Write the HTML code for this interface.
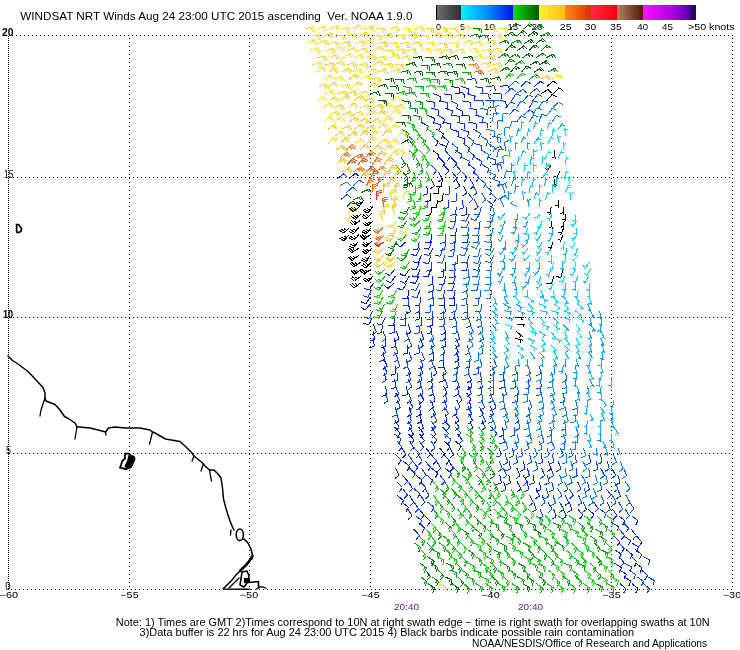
<!DOCTYPE html><html><head><meta charset="utf-8"><title>WINDSAT NRT Winds</title><style>html,body{margin:0;padding:0;background:#fff;width:740px;height:650px;overflow:hidden}svg{display:block}text{font-family:"Liberation Sans",Arial,sans-serif}</style></head><body><svg width="740" height="650" viewBox="0 0 740 650"><rect width="740" height="650" fill="#fff"/><defs><linearGradient id="g0" x1="0" x2="1" y1="0" y2="0"><stop offset="0" stop-color="#707070"/><stop offset="1" stop-color="#2e2e2e"/></linearGradient><linearGradient id="g1" x1="0" x2="1" y1="0" y2="0"><stop offset="0" stop-color="#00f4ff"/><stop offset="0.5" stop-color="#0090ff"/><stop offset="1" stop-color="#0010e8"/></linearGradient><linearGradient id="g2" x1="0" x2="1" y1="0" y2="0"><stop offset="0" stop-color="#00e000"/><stop offset="1" stop-color="#005a00"/></linearGradient><linearGradient id="g3" x1="0" x2="1" y1="0" y2="0"><stop offset="0" stop-color="#fff030"/><stop offset="1" stop-color="#ffc010"/></linearGradient><linearGradient id="g4" x1="0" x2="1" y1="0" y2="0"><stop offset="0" stop-color="#ff8818"/><stop offset="1" stop-color="#e03000"/></linearGradient><linearGradient id="g5" x1="0" x2="1" y1="0" y2="0"><stop offset="0" stop-color="#ff2848"/><stop offset="1" stop-color="#ff0008"/></linearGradient><linearGradient id="g6" x1="0" x2="1" y1="0" y2="0"><stop offset="0" stop-color="#b88060"/><stop offset="1" stop-color="#501808"/></linearGradient><linearGradient id="g7" x1="0" x2="1" y1="0" y2="0"><stop offset="0" stop-color="#ff10ff"/><stop offset="0.7" stop-color="#a000e0"/><stop offset="1" stop-color="#5000a8"/></linearGradient></defs><rect x="436" y="5" width="25" height="15" fill="url(#g0)"/><rect x="461" y="5" width="52" height="15" fill="url(#g1)"/><rect x="513" y="5" width="26" height="15" fill="url(#g2)"/><rect x="539" y="5" width="26" height="15" fill="url(#g3)"/><rect x="565" y="5" width="26" height="15" fill="url(#g4)"/><rect x="591" y="5" width="26" height="15" fill="url(#g5)"/><rect x="617" y="5" width="26" height="15" fill="url(#g6)"/><rect x="643" y="5" width="47" height="15" fill="url(#g7)"/><rect x="690" y="5" width="6" height="15" fill="#300060"/><rect x="436" y="5" width="1" height="15" fill="#000"/><g shape-rendering="crispEdges"><line x1="12" y1="35.5" x2="733" y2="35.5" stroke="#000" stroke-width="1" stroke-dasharray="1 3"/><line x1="11" y1="589.5" x2="733" y2="589.5" stroke="#000" stroke-width="1" stroke-dasharray="1 3"/><line x1="9" y1="177.5" x2="733" y2="177.5" stroke="#000" stroke-width="1" stroke-dasharray="1 3"/><line x1="9" y1="317.5" x2="733" y2="317.5" stroke="#000" stroke-width="1" stroke-dasharray="1 3"/><line x1="9" y1="453.5" x2="733" y2="453.5" stroke="#000" stroke-width="1" stroke-dasharray="1 3"/><line x1="8.5" y1="36" x2="8.5" y2="590" stroke="#000" stroke-width="1" stroke-dasharray="1 1"/><line x1="129.5" y1="38" x2="129.5" y2="590" stroke="#000" stroke-width="1" stroke-dasharray="1 3"/><line x1="249.5" y1="38" x2="249.5" y2="590" stroke="#000" stroke-width="1" stroke-dasharray="1 3"/><line x1="370.5" y1="38" x2="370.5" y2="590" stroke="#000" stroke-width="1" stroke-dasharray="1 3"/><line x1="490.5" y1="38" x2="490.5" y2="590" stroke="#000" stroke-width="1" stroke-dasharray="1 3"/><line x1="611.5" y1="38" x2="611.5" y2="590" stroke="#000" stroke-width="1" stroke-dasharray="1 3"/><line x1="732.5" y1="38" x2="732.5" y2="590" stroke="#000" stroke-width="1" stroke-dasharray="1 3"/></g><text x="20.3" y="20.4" font-size="11" fill="#000" text-anchor="start" textLength="392.2" lengthAdjust="spacingAndGlyphs">WINDSAT NRT Winds Aug 24 23:00 UTC 2015 ascending&#160;&#160;Ver. NOAA 1.9.0</text><text x="436" y="30" font-size="9" fill="#000" text-anchor="start" textLength="5" lengthAdjust="spacingAndGlyphs">0</text><text x="460" y="30" font-size="9" fill="#000" text-anchor="start" textLength="5" lengthAdjust="spacingAndGlyphs">5</text><text x="484" y="30" font-size="9" fill="#000" text-anchor="start" textLength="11" lengthAdjust="spacingAndGlyphs">10</text><text x="507.5" y="30" font-size="9" fill="#000" text-anchor="start" textLength="10.5" lengthAdjust="spacingAndGlyphs">15</text><text x="531.5" y="30" font-size="9" fill="#000" text-anchor="start" textLength="11.0" lengthAdjust="spacingAndGlyphs">20</text><text x="559.7" y="30" font-size="9" fill="#000" text-anchor="start" textLength="11.9" lengthAdjust="spacingAndGlyphs">25</text><text x="584.8" y="30" font-size="9" fill="#000" text-anchor="start" textLength="11.4" lengthAdjust="spacingAndGlyphs">30</text><text x="610.3" y="30" font-size="9" fill="#000" text-anchor="start" textLength="11.2" lengthAdjust="spacingAndGlyphs">35</text><text x="637.3" y="30" font-size="9" fill="#000" text-anchor="start" textLength="10.7" lengthAdjust="spacingAndGlyphs">40</text><text x="662" y="30" font-size="9" fill="#000" text-anchor="start" textLength="11" lengthAdjust="spacingAndGlyphs">45</text><text x="688" y="30" font-size="9" fill="#000" text-anchor="start" textLength="46.6" lengthAdjust="spacingAndGlyphs">&gt;50 knots</text><text x="2.0" y="35.8" font-size="10" fill="#000" text-anchor="start" textLength="11.5" lengthAdjust="spacingAndGlyphs" font-weight="bold">20</text><text x="4.0" y="178" font-size="10" fill="#000" text-anchor="start" textLength="9.6" lengthAdjust="spacingAndGlyphs">15</text><text x="3.0" y="318.2" font-size="10" fill="#000" text-anchor="start" textLength="10.2" lengthAdjust="spacingAndGlyphs" font-weight="bold">10</text><text x="6" y="454" font-size="10" fill="#000" text-anchor="start" textLength="5" lengthAdjust="spacingAndGlyphs">5</text><text x="5.199999999999999" y="589.6" font-size="10" fill="#000" text-anchor="start" textLength="5.4" lengthAdjust="spacingAndGlyphs">0</text><text x="-0.3999999999999986" y="598.4" font-size="9" fill="#000" text-anchor="start" textLength="18.4" lengthAdjust="spacingAndGlyphs">&#8722;60</text><text x="120.3" y="598.4" font-size="9" fill="#000" text-anchor="start" textLength="18.4" lengthAdjust="spacingAndGlyphs">&#8722;55</text><text x="239.8" y="598.4" font-size="9" fill="#000" text-anchor="start" textLength="18.4" lengthAdjust="spacingAndGlyphs">&#8722;50</text><text x="361.3" y="598.4" font-size="9" fill="#000" text-anchor="start" textLength="18.4" lengthAdjust="spacingAndGlyphs">&#8722;45</text><text x="481.3" y="598.4" font-size="9" fill="#000" text-anchor="start" textLength="18.4" lengthAdjust="spacingAndGlyphs">&#8722;40</text><text x="602.3" y="598.4" font-size="9" fill="#000" text-anchor="start" textLength="18.4" lengthAdjust="spacingAndGlyphs">&#8722;35</text><text x="722.8" y="598.4" font-size="9" fill="#000" text-anchor="start" textLength="18.4" lengthAdjust="spacingAndGlyphs">&#8722;30</text><text x="115.8" y="626.1" font-size="10" fill="#000" text-anchor="start" textLength="593.8" lengthAdjust="spacingAndGlyphs">Note: 1) Times are GMT 2)Times correspond to 10N at right swath edge &#8722; time is right swath for overlapping swaths at 10N</text><text x="139.6" y="635.6" font-size="10" fill="#000" text-anchor="start" textLength="494.6" lengthAdjust="spacingAndGlyphs">3)Data buffer is 22 hrs for Aug 24 23:00 UTC 2015 4) Black barbs indicate possible rain contamination</text><text x="472" y="647.3" font-size="10" fill="#000" text-anchor="start" textLength="235.2" lengthAdjust="spacingAndGlyphs">NOAA/NESDIS/Office of Research and Applications</text><text x="394" y="609.8" font-size="9" fill="#5a1e8c" text-anchor="start" textLength="25" lengthAdjust="spacingAndGlyphs">20:40</text><text x="518" y="609.8" font-size="9" fill="#5a1e8c" text-anchor="start" textLength="25" lengthAdjust="spacingAndGlyphs">20:40</text><g><polyline fill="none" stroke="#000" stroke-width="1.5" stroke-linejoin="round" stroke-linecap="round" points="8,356 12,360 20,365.5 28,371.5 36.5,380.5 43,387.5 45,393 45,398 46,401 55,404.5 60,410 64.5,416.5 69,419 75,423 77,427 79.5,427 90,428 100,430.5 105.5,432 108.5,428 115,427 125,428 130,428 140,428 150,430 152.5,432 155,433 165.5,439 180,441.5 186,447 192,453 194,456 202,462.5 205,466 209.5,470 214,470 218,474 221,478 222.5,488 223.5,499 225.8,507.7 228,515 230,521 232.5,527 234,530"/><polyline fill="none" stroke="#000" stroke-width="1.3" stroke-linejoin="round" stroke-linecap="round" points="45,398 43,404 41,410 40,416"/><polyline fill="none" stroke="#000" stroke-width="1.3" stroke-linejoin="round" stroke-linecap="round" points="77,427 76,433 75,439"/><polyline fill="none" stroke="#000" stroke-width="1.3" stroke-linejoin="round" stroke-linecap="round" points="105.5,432 106,435"/><polyline fill="none" stroke="#000" stroke-width="1.3" stroke-linejoin="round" stroke-linecap="round" points="152.5,432 151,438 149.5,444"/><polyline fill="none" stroke="#000" stroke-width="1.3" stroke-linejoin="round" stroke-linecap="round" points="194,456 192,461"/><polyline fill="none" stroke="#000" stroke-width="1.3" stroke-linejoin="round" stroke-linecap="round" points="203,465 201,471"/><polyline fill="none" stroke="#000" stroke-width="1.3" stroke-linejoin="round" stroke-linecap="round" points="209.5,470 210.5,476 211.5,481"/><polyline fill="none" stroke="#000" stroke-width="1.3" stroke-linejoin="round" stroke-linecap="round" points="231,530 230.5,535"/><ellipse cx="239.8" cy="534.8" rx="3.6" ry="5.8" fill="none" stroke="#000" stroke-width="1.6"/><polyline fill="none" stroke="#000" stroke-width="1.6" stroke-linejoin="round" stroke-linecap="round" points="243,539 244.6,539.6 248,543 251,549 252.5,555 252,559"/><polyline fill="none" stroke="#000" stroke-width="2.6" stroke-linejoin="round" stroke-linecap="round" points="252.5,556 250,560 247,564 243,568 240,571"/><polyline fill="none" stroke="#000" stroke-width="1.5" stroke-linejoin="round" stroke-linecap="round" points="240,571 236,575 232,580 227,585 223,589 250,589.3"/><polyline fill="none" stroke="#000" stroke-width="1.4" stroke-linejoin="round" stroke-linecap="round" points="239,578 234,583 229,588"/><polyline fill="none" stroke="#000" stroke-width="1.6" stroke-linejoin="round" stroke-linecap="round" points="242,572 247,571 249,576 247,583 244,587 240,585 241,579 242,572"/><rect x="244" y="578" width="6" height="5" fill="#000"/><polyline fill="none" stroke="#000" stroke-width="1.6" stroke-linejoin="round" stroke-linecap="round" points="249,582.5 258.5,581.5 258.5,588"/><polyline fill="none" stroke="#000" stroke-width="1.3" stroke-linejoin="round" stroke-linecap="round" points="256.5,589 259.5,587 264,587.2 266,588.5"/><polygon points="16.6,224.6 18.6,224.6 21.4,228.2 21.4,230.6 19.4,232.4 17,232.4 16.6,231" fill="none" stroke="#000" stroke-width="1.7"/><polygon points="125,453.6 128.6,453.6 130.5,455.5 133.8,456.6 134.6,459 133,463 131,467 126,469.2 123,468.3 120,467.6 121.2,464.5 122.2,461 125,458.5" fill="none" stroke="#000" stroke-width="1.8"/><polygon points="128.6,455 130.5,456 133.5,457.2 134,459 132.5,463 130.5,466.8 126,468.6 124.5,466 127,461" fill="#000"/></g><g shape-rendering="crispEdges"><path fill="none" stroke="#006700" stroke-width="1" d="M427.7 583.5L434.6 588.1M434.6 588.1l-2.1 4.8M432.9 587.0l-1.2 2.7"/><path fill="none" stroke="#fae127" stroke-width="1" d="M438.2 583.5L445.9 586.4M445.9 586.4l-1.0 5.1M444.1 585.7l-1.0 5.1M408.1 227.6L403.6 234.4M403.6 234.4l-4.8 -2.0M404.7 232.8l-4.8 -2.0M346.6 220.6L351.5 214.1M351.5 214.1l4.6 2.4M350.3 215.6l4.6 2.4M348.5 213.6L352.9 206.7M352.9 206.7l4.8 2.0M351.9 208.4l4.8 2.0M394.8 150.4L402.9 148.8M402.9 148.8l1.9 4.8M400.9 149.2l1.9 4.8M389.3 143.4L396.1 138.8M396.1 138.8l3.6 3.7M394.4 139.9l3.6 3.7M324.2 122.2L329.6 116.0M329.6 116.0l4.4 2.7M328.3 117.5l4.4 2.7M371.2 122.2L378.6 118.5M378.6 118.5l3.1 4.2M376.8 119.4l3.1 4.2M329.8 115.1L336.9 111.0M336.9 111.0l3.3 4.0M335.1 112.0l3.3 4.0M323.0 107.9L329.6 103.1M329.6 103.1l3.8 3.6M328.0 104.3l3.8 3.6M382.3 107.9L388.8 103.0M388.8 103.0l3.8 3.5M387.3 104.2l3.8 3.5M324.5 93.7L331.9 90.2M331.9 90.2l3.0 4.2M330.1 91.1l3.0 4.2M334.1 79.4L341.8 76.5M341.8 76.5l2.6 4.5M339.9 77.2l2.6 4.5M360.7 79.4L367.5 74.9M367.5 74.9l3.6 3.8M365.9 76.0l3.6 3.8M367.5 72.3L374.6 68.3M374.6 68.3l3.3 4.0M372.9 69.3l3.3 4.0M390.9 72.3L398.1 68.3M398.1 68.3l3.2 4.1M396.4 69.3l3.2 4.1M394.8 65.1L402.9 64.0M402.9 64.0l1.6 5.0M400.9 64.3l1.6 5.0M480.4 65.1L488.0 62.1M488.0 62.1l2.7 4.4M486.2 62.8l2.7 4.4M366.5 57.9L374.1 54.6M374.1 54.6l2.9 4.3M372.2 55.4l2.9 4.3M309.8 50.7L317.3 47.5M317.3 47.5l2.9 4.3M315.5 48.3l2.9 4.3M395.9 50.7L403.9 48.9M403.9 48.9l2.0 4.8M401.9 49.4l2.0 4.8M455.2 50.7L463.2 48.9M463.2 48.9l2.0 4.8M461.2 49.4l2.0 4.8M468.8 50.7L476.4 47.8M476.4 47.8l2.7 4.5M474.6 48.5l2.7 4.5M491.6 50.7L499.3 47.9M499.3 47.9l2.6 4.5M497.4 48.6l2.6 4.5M306.9 43.5L314.2 39.7M314.2 39.7l3.2 4.1M312.4 40.7l3.2 4.1M389.4 43.5L397.5 42.6M397.5 42.6l1.5 5.0M395.5 42.8l1.5 5.0M449.5 43.5L457.6 42.5M457.6 42.5l1.5 5.0M455.6 42.8l1.5 5.0M335.7 36.3L343.8 35.1M343.8 35.1l1.6 4.9M341.9 35.4l1.6 4.9M346.6 36.3L354.3 33.5M354.3 33.5l2.6 4.5M352.4 34.2l2.6 4.5M396.0 36.3L404.0 34.5M404.0 34.5l2.0 4.8M402.1 34.9l2.0 4.8M442.7 36.3L450.2 33.1M450.2 33.1l2.8 4.4M448.4 33.9l2.8 4.4M492.6 36.3L500.6 34.6M500.6 34.6l2.0 4.8M498.6 35.0l2.0 4.8M316.9 29.1L324.6 26.2M324.6 26.2l2.6 4.5M322.8 26.9l2.6 4.5M401.9 29.1L410.1 28.3M410.1 28.3l1.4 5.0M408.1 28.5l1.4 5.0M449.0 29.1L457.1 27.8M457.1 27.8l1.7 4.9M455.2 28.1l1.7 4.9M498.4 29.1L506.5 27.7M506.5 27.7l1.7 4.9M504.5 28.1l1.7 4.9"/><path fill="none" stroke="#007e00" stroke-width="1" d="M451.8 583.5L458.6 588.1M458.6 588.1l-2.1 4.8M457.0 587.0l-1.2 2.7M498.8 43.5L506.1 39.9M506.1 39.9l3.1 4.2M504.4 40.8l1.8 2.4M469.7 36.3L477.5 33.8M477.5 33.8l2.4 4.6M475.6 34.4l1.4 2.6"/><path fill="none" stroke="#00b000" stroke-width="1" d="M463.7 583.5L469.8 589.1M469.8 589.1l-2.8 4.4M468.3 587.7l-1.6 2.5M409.2 248.4L405.9 256.0M405.9 256.0l-5.1 -1.2M406.7 254.1l-2.9 -0.7"/><path fill="none" stroke="#00c600" stroke-width="1" d="M475.4 583.5L482.7 587.2M482.7 587.2l-1.5 5.0M480.9 586.3l-0.9 2.9M582.9 583.5L589.7 588.0M589.7 588.0l-2.1 4.8M588.0 586.9l-1.2 2.8M445.8 549.6L451.9 555.0M451.9 555.0l-2.7 4.4M450.4 553.7l-1.6 2.6M486.5 542.8L492.1 548.7M492.1 548.7l-3.1 4.2M490.7 547.3l-1.8 2.4M426.1 171.6L430.1 178.7M430.1 178.7l-4.0 3.3M429.2 177.0l-2.3 1.9"/><path fill="none" stroke="#00cd00" stroke-width="1" d="M485.5 583.5L492.2 588.2M492.2 588.2l-2.2 4.7M490.6 587.1l-1.3 2.7M553.6 576.7L559.7 582.3M559.7 582.3l-2.8 4.4M558.2 580.9l-1.6 2.5M557.5 515.7L564.4 520.2M564.4 520.2l-2.1 4.8M562.7 519.1l-1.2 2.8"/><path fill="none" stroke="#00be00" stroke-width="1" d="M497.5 583.5L505.0 586.8M505.0 586.8l-1.2 5.1M503.1 586.0l-0.7 2.9M563.2 536.0L569.3 541.5M569.3 541.5l-2.7 4.4M567.8 540.2l-1.6 2.5M467.1 468.1L471.7 474.9M471.7 474.9l-3.7 3.6M470.5 473.2l-2.2 2.1"/><path fill="none" stroke="#00b700" stroke-width="1" d="M511.8 583.5L518.8 587.9M518.8 587.9l-1.9 4.8M517.1 586.8l-1.1 2.8M384.7 303.8L381.1 311.2M381.1 311.2l-5.0 -1.5M382.0 309.4l-2.9 -0.8M424.6 143.4L429.8 149.8M429.8 149.8l-3.4 3.9M428.5 148.2l-2.0 2.3"/><path fill="none" stroke="#008a00" stroke-width="1" d="M522.7 583.5L529.8 587.7M529.8 587.7l-1.9 4.9M528.0 586.7l-1.1 2.8M409.5 206.6L405.4 213.8M405.4 213.8l-4.9 -1.7M406.4 212.0l-2.8 -1.0M361.3 192.6L368.6 188.9M368.6 188.9l3.1 4.2M366.9 189.8l1.8 2.4M514.8 65.1L521.6 60.5M521.6 60.5l3.6 3.7M519.9 61.6l2.1 2.2"/><path fill="none" stroke="#00ac00" stroke-width="1" d="M536.0 583.5L542.8 588.1M542.8 588.1l-2.1 4.8M541.1 587.0l-1.2 2.7M431.3 79.4L439.4 79.9M439.4 79.9l0.6 5.2M437.4 79.8l0.3 3.0"/><path fill="none" stroke="#00d100" stroke-width="1" d="M546.6 583.5L553.6 587.8M553.6 587.8l-1.9 4.8M551.9 586.8l-1.1 2.8M467.7 536.0L473.6 541.7M473.6 541.7l-2.9 4.3M472.2 540.3l-1.7 2.5M487.4 529.2L493.1 535.1M493.1 535.1l-3.0 4.2M491.7 533.7l-1.8 2.4M493.7 508.9L499.9 514.2M499.9 514.2l-2.6 4.5M498.4 512.9l-1.5 2.6"/><path fill="none" stroke="#00d300" stroke-width="1" d="M557.4 583.5L563.6 588.9M563.6 588.9l-2.7 4.5M562.1 587.6l-1.5 2.6M581.5 529.2L587.4 535.0M587.4 535.0l-2.9 4.3M586.0 533.6l-1.7 2.5M490.6 434.0L494.7 441.2M494.7 441.2l-4.0 3.3M493.7 439.4l-2.3 1.9M396.4 310.7L393.9 318.5M393.9 318.5l-5.1 -0.8M394.5 316.6l-3.0 -0.4"/><path fill="none" stroke="#00ba00" stroke-width="1" d="M569.4 583.5L575.8 588.7M575.8 588.7l-2.5 4.6M574.3 587.4l-1.5 2.6M510.6 488.5L514.9 495.5M514.9 495.5l-3.9 3.4M513.9 493.8l-2.3 2.0M396.5 93.7L404.4 91.4M404.4 91.4l2.3 4.7M402.5 91.9l1.3 2.7M403.3 86.6L411.4 87.9M411.4 87.9l0.1 5.2M409.4 87.5l0.0 3.0"/><path fill="none" stroke="#00a200" stroke-width="1" d="M594.9 583.5L602.5 586.7M602.5 586.7l-1.2 5.1M600.6 585.9l-0.7 2.9M445.4 522.5L451.5 528.0M451.5 528.0l-2.8 4.4M450.0 526.6l-1.6 2.5"/><path fill="none" stroke="#00cc00" stroke-width="1" d="M607.0 583.5L614.3 587.3M614.3 587.3l-1.5 5.0M612.5 586.4l-0.9 2.9M382.7 296.9L379.4 304.4M379.4 304.4l-5.1 -1.2M380.2 302.6l-2.9 -0.7"/><path fill="none" stroke="#0027ec" stroke-width="1" d="M619.8 583.5L626.1 588.8M626.1 588.8l-2.6 4.5M432.1 406.7L435.5 414.2M435.5 414.2l-4.3 3.0M443.3 372.5L444.2 380.7M444.2 380.7l-5.0 1.5M468.0 372.5L471.4 380.0M471.4 380.0l-4.3 3.0"/><path fill="none" stroke="#0018e9" stroke-width="1" d="M631.8 583.5L638.2 588.6M638.2 588.6l-2.5 4.6M619.5 570.0L626.5 574.2M626.5 574.2l-1.9 4.8M614.6 563.2L621.4 567.8M621.4 567.8l-2.1 4.7M626.0 549.6L632.4 554.7M632.4 554.7l-2.5 4.6M631.4 542.8L638.5 546.9M638.5 546.9l-1.7 4.9M418.7 522.5L424.8 528.0M424.8 528.0l-2.8 4.4M424.6 515.7L430.5 521.4M430.5 521.4l-2.9 4.3M577.7 508.9L582.8 515.3M582.8 515.3l-3.4 3.9M401.9 502.1L408.3 507.1M408.3 507.1l-2.4 4.6M397.4 495.3L403.5 500.7M403.5 500.7l-2.7 4.4M420.6 495.3L425.0 502.2M425.0 502.2l-3.8 3.5M413.8 488.5L420.1 493.7M420.1 493.7l-2.6 4.5M536.0 488.5L539.6 495.9M539.6 495.9l-4.2 3.0M396.6 481.7L402.4 487.5M402.4 487.5l-3.0 4.2M408.3 481.7L412.6 488.7M412.6 488.7l-3.9 3.4M503.5 481.7L506.1 489.5M506.1 489.5l-4.6 2.4M517.1 481.7L520.9 488.9M520.9 488.9l-4.1 3.2M402.1 474.9L407.5 481.1M407.5 481.1l-3.3 4.0M415.6 474.9L422.0 480.0M422.0 480.0l-2.5 4.6M499.8 474.9L501.3 482.9M501.3 482.9l-4.9 1.8M522.9 474.9L527.2 481.9M527.2 481.9l-3.9 3.5M395.4 468.1L399.1 475.4M399.1 475.4l-4.2 3.1M431.3 468.1L437.8 473.1M437.8 473.1l-2.4 4.6M436.8 461.3L440.9 468.3M440.9 468.3l-3.9 3.4M448.8 461.3L453.4 468.1M453.4 468.1l-3.8 3.6M443.3 454.5L449.2 460.2M449.2 460.2l-2.9 4.3M401.4 447.7L406.1 454.4M406.1 454.4l-3.7 3.7M439.4 447.7L444.7 453.9M444.7 453.9l-3.3 4.0M449.9 447.7L453.7 454.9M453.7 454.9l-4.1 3.2M431.1 434.0L436.8 440.0M436.8 440.0l-3.1 4.2M457.6 434.0L462.5 440.6M462.5 440.6l-3.6 3.8M420.6 420.4L423.5 428.1M423.5 428.1l-4.5 2.7M469.9 420.4L472.6 428.1M472.6 428.1l-4.5 2.6M482.0 420.4L485.3 427.9M485.3 427.9l-4.3 2.9M419.4 413.6L421.7 421.4M421.7 421.4l-4.7 2.3M445.0 413.6L447.1 421.5M447.1 421.5l-4.7 2.2M409.3 406.7L411.5 414.6M411.5 414.6l-4.7 2.2M419.3 406.7L421.2 414.7M421.2 414.7l-4.8 2.1M430.6 399.9L433.7 407.5M433.7 407.5l-4.4 2.8M395.8 393.1L399.7 400.3M399.7 400.3l-4.1 3.2M420.3 393.1L424.0 400.4M424.0 400.4l-4.2 3.1M466.8 393.1L471.1 400.1M471.1 400.1l-3.9 3.4M443.4 386.2L447.4 393.4M447.4 393.4l-4.1 3.2M395.1 365.7L395.8 373.9M395.8 373.9l-5.0 1.3M407.0 365.7L410.6 373.1M410.6 373.1l-4.2 3.1M420.4 365.7L422.9 373.5M422.9 373.5l-4.6 2.5M383.7 358.8L387.3 366.2M387.3 366.2l-4.2 3.1M443.5 358.8L443.6 367.0M443.6 367.0l-5.1 1.0M382.6 345.1L385.7 352.7M385.7 352.7l-4.4 2.8M407.5 345.1L407.7 353.3M407.7 353.3l-5.1 1.0M373.2 338.2L374.3 346.4M374.3 346.4l-5.0 1.6M396.4 331.4L399.0 339.1M399.0 339.1l-4.6 2.5M373.5 324.5L376.3 332.2M376.3 332.2l-4.5 2.6M408.4 324.5L410.7 332.4M410.7 332.4l-4.7 2.3M430.6 324.5L431.6 332.6M431.6 332.6l-5.0 1.5M372.4 317.6L368.4 324.8M368.4 324.8l-4.9 -1.7M385.1 317.6L381.5 325.0M381.5 325.0l-5.0 -1.4M433.0 317.6L432.7 325.8M432.7 325.8l-5.2 0.7M418.7 310.7L419.7 318.8M419.7 318.8l-5.0 1.5M370.5 303.8L365.1 309.9M365.1 309.9l-4.4 -2.7M408.3 303.8L410.4 311.7M410.4 311.7l-4.7 2.2M444.4 303.8L445.3 312.0M445.3 312.0l-5.0 1.5M370.3 296.9L365.8 303.8M365.8 303.8l-4.8 -2.0M455.0 296.9L454.5 305.1M454.5 305.1l-5.2 0.6M409.0 290.0L407.6 298.1M407.6 298.1l-5.2 0.0M373.4 283.1L369.4 290.2M369.4 290.2l-4.9 -1.7M394.2 283.1L388.0 288.4M388.0 288.4l-4.0 -3.3M395.3 276.2L390.5 282.8M390.5 282.8l-4.7 -2.3M409.2 276.2L404.9 283.2M404.9 283.2l-4.8 -1.9M418.7 276.2L415.1 283.5M415.1 283.5l-5.0 -1.5M409.4 269.3L404.7 276.0M404.7 276.0l-4.7 -2.2M420.0 269.3L417.1 276.9M417.1 276.9l-5.1 -1.0M419.4 262.3L416.4 269.9M416.4 269.9l-5.1 -1.1M421.3 255.4L418.1 262.9M418.1 262.9l-5.1 -1.2M431.7 241.5L428.7 249.1M428.7 249.1l-5.1 -1.1M431.8 234.5L430.6 242.6M430.6 242.6l-5.2 0.2M456.9 227.6L455.4 235.6M455.4 235.6l-5.2 -0.0M426.8 185.6L427.7 193.8M427.7 193.8l-5.0 1.5M337.2 178.6L343.9 173.8M343.9 173.8l3.7 3.6M349.3 178.6L355.4 173.2M355.4 173.2l4.1 3.3M430.9 178.6L434.3 186.0M434.3 186.0l-4.3 3.0M455.8 178.6L459.7 185.8M459.7 185.8l-4.1 3.2M438.4 171.6L442.2 178.9M442.2 178.9l-4.1 3.2M443.3 164.5L448.9 170.6M448.9 170.6l-3.2 4.1M439.1 157.5L444.9 163.3M444.9 163.3l-3.0 4.2M432.9 150.4L439.3 155.5M439.3 155.5l-2.5 4.6M439.0 143.4L446.4 146.8M446.4 146.8l-1.3 5.0M432.2 136.3L438.3 141.9M438.3 141.9l-2.8 4.4M457.2 136.3L464.9 139.1M464.9 139.1l-0.9 5.1M421.1 122.2L428.3 126.1M428.3 126.1l-1.7 4.9M442.6 122.2L450.7 123.8M450.7 123.8l-0.1 5.2M427.3 115.1L434.7 118.5M434.7 118.5l-1.4 5.0M461.1 115.1L469.2 115.9M469.2 115.9l0.3 5.2M455.4 107.9L462.9 111.4M462.9 111.4l-1.3 5.0M426.2 100.8L434.3 102.2M434.3 102.2l0.0 5.2M443.6 93.7L451.7 95.1M451.7 95.1l0.0 5.2M455.3 93.7L463.4 92.6M463.4 92.6l1.6 5.0M450.9 86.6L459.0 87.7M459.0 87.7l0.2 5.2M461.1 86.6L469.0 88.7M469.0 88.7l-0.5 5.2M534.4 86.6L540.5 81.1M540.5 81.1l4.1 3.2"/><path fill="none" stroke="#0036ef" stroke-width="1" d="M643.3 583.5L649.6 588.8M649.6 588.8l-2.6 4.5M599.7 508.9L606.2 513.8M606.2 513.8l-2.4 4.6M629.5 502.1L634.1 508.9M634.1 508.9l-3.8 3.6M551.0 468.1L553.5 475.9M553.5 475.9l-4.6 2.4M529.7 454.5L531.7 462.4M531.7 462.4l-4.7 2.1M407.7 420.4L412.1 427.3M412.1 427.3l-3.8 3.6M394.8 269.3L389.6 275.6M389.6 275.6l-4.5 -2.6M461.8 171.6L467.2 177.7M467.2 177.7l-3.2 4.1"/><path fill="none" stroke="#009c00" stroke-width="1" d="M420.8 576.7L427.1 581.9M427.1 581.9l-2.5 4.5M425.6 580.7l-1.5 2.6"/><path fill="none" stroke="#009b00" stroke-width="1" d="M431.8 576.7L438.7 581.3M438.7 581.3l-2.1 4.8M437.0 580.2l-1.2 2.7M516.7 576.7L524.2 579.9M524.2 579.9l-1.1 5.1M522.4 579.1l-0.6 2.9M456.0 563.2L461.8 569.0M461.8 569.0l-3.0 4.2M460.4 567.6l-1.7 2.4M541.3 549.6L547.2 555.3M547.2 555.3l-2.9 4.3M545.8 553.9l-1.7 2.5M455.8 536.0L460.4 542.8M460.4 542.8l-3.8 3.6M459.3 541.2l-2.2 2.1M529.4 79.4L535.9 74.3M535.9 74.3l3.9 3.5M534.3 75.6l2.2 2.0"/><path fill="none" stroke="#006200" stroke-width="1" d="M444.5 576.7L452.1 579.9M452.1 579.9l-1.2 5.1M450.3 579.1l-0.7 2.9M425.2 570.0L430.4 576.3M430.4 576.3l-3.4 4.0M429.1 574.7l-1.9 2.3M402.9 185.6L410.6 182.7M410.6 182.7l2.6 4.5M408.7 183.4l1.5 2.6M401.4 143.4L408.5 139.3M408.5 139.3l3.3 4.0M406.7 140.3l1.9 2.3M377.7 100.8L385.9 100.9M385.9 100.9l0.9 5.1M383.9 100.9l0.5 3.0M377.9 86.6L385.8 84.2M385.8 84.2l2.3 4.7M383.8 84.8l1.3 2.7M413.6 72.3L421.7 71.3M421.7 71.3l1.5 5.0M419.7 71.6l0.9 2.9M438.4 72.3L446.5 70.9M446.5 70.9l1.7 4.9M444.5 71.3l1.0 2.8M448.4 72.3L456.6 71.8M456.6 71.8l1.2 5.1M454.6 71.9l0.7 2.9M510.3 72.3L515.8 66.2M515.8 66.2l4.4 2.8M514.5 67.7l2.5 1.6M534.2 72.3L540.9 67.6M540.9 67.6l3.6 3.7M539.3 68.8l2.1 2.1M431.1 65.1L439.1 63.4M439.1 63.4l2.0 4.8M437.1 63.8l1.1 2.8M455.7 65.1L463.9 63.8M463.9 63.8l1.7 4.9M461.9 64.1l1.0 2.8M530.1 65.1L537.2 60.9M537.2 60.9l3.4 4.0M535.5 62.0l1.9 2.3M539.1 65.1L546.1 60.7M546.1 60.7l3.5 3.8M544.4 61.7l2.0 2.2M413.0 57.9L421.0 56.4M421.0 56.4l1.8 4.9M419.1 56.8l1.0 2.8M439.5 57.9L447.4 55.6M447.4 55.6l2.3 4.7M445.5 56.2l1.3 2.7M448.6 57.9L456.3 55.1M456.3 55.1l2.6 4.5M454.4 55.8l1.5 2.6M463.5 57.9L471.5 56.2M471.5 56.2l1.9 4.8M469.5 56.6l1.1 2.8M522.7 57.9L529.3 53.1M529.3 53.1l3.8 3.6M527.7 54.3l2.2 2.1M505.7 50.7L511.3 44.8M511.3 44.8l4.3 2.9M509.9 46.2l2.5 1.6M524.1 43.5L531.2 39.5M531.2 39.5l3.3 4.0M529.5 40.5l1.9 2.3M528.0 36.3L534.4 31.2M534.4 31.2l3.9 3.5M532.8 32.5l2.2 2.0M510.3 29.1L515.9 23.1M515.9 23.1l4.4 2.8M514.6 24.6l2.5 1.6"/><path fill="none" stroke="#009000" stroke-width="1" d="M457.9 576.7L463.7 582.6M463.7 582.6l-3.0 4.2M462.3 581.1l-1.7 2.4M445.8 563.2L453.5 566.1M453.5 566.1l-1.0 5.1M451.6 565.4l-0.6 2.9M475.5 529.2L481.9 534.4M481.9 534.4l-2.5 4.5M480.3 533.2l-1.5 2.6M401.7 129.2L408.7 133.4M408.7 133.4l-1.9 4.9M407.0 132.4l-1.1 2.8M511.2 43.5L518.5 39.7M518.5 39.7l3.2 4.1M516.7 40.6l1.8 2.4"/><path fill="none" stroke="#00bd00" stroke-width="1" d="M466.8 576.7L474.4 579.7M474.4 579.7l-1.0 5.1M472.6 579.0l-0.6 2.9M523.2 542.8L530.5 546.5M530.5 546.5l-1.5 5.0M528.7 545.6l-0.9 2.9M487.4 447.7L493.2 453.5M493.2 453.5l-3.0 4.2M491.8 452.1l-1.7 2.4M444.3 213.6L441.8 221.4M441.8 221.4l-5.2 -0.7M442.4 219.5l-3.0 -0.4"/><path fill="none" stroke="#00c800" stroke-width="1" d="M481.3 576.7L488.8 580.0M488.8 580.0l-1.2 5.1M486.9 579.2l-0.7 2.9M461.3 488.5L467.3 494.1M467.3 494.1l-2.8 4.4M465.8 492.7l-1.6 2.5M469.5 454.5L476.1 459.4M476.1 459.4l-2.3 4.6M474.5 458.2l-1.3 2.7M385.1 276.2L379.7 282.4M379.7 282.4l-4.5 -2.7M381.0 280.9l-2.6 -1.5"/><path fill="none" stroke="#009700" stroke-width="1" d="M492.0 576.7L498.2 582.1M498.2 582.1l-2.7 4.4M496.7 580.8l-1.6 2.6M534.1 29.1L541.0 24.6M541.0 24.6l3.5 3.8M539.3 25.7l2.0 2.2"/><path fill="none" stroke="#00d000" stroke-width="1" d="M503.5 576.7L509.4 582.4M509.4 582.4l-2.9 4.3M507.9 581.0l-1.7 2.5M600.0 563.2L607.1 567.3M607.1 567.3l-1.8 4.9M605.3 566.3l-1.0 2.8M460.7 542.8L466.6 548.4M466.6 548.4l-2.8 4.4M465.2 547.0l-1.6 2.5M560.1 529.2L567.4 533.0M567.4 533.0l-1.5 5.0M565.6 532.1l-0.9 2.9M522.1 502.1L526.7 508.9M526.7 508.9l-3.7 3.6M525.6 507.2l-2.2 2.1M484.6 474.9L489.7 481.3M489.7 481.3l-3.4 3.9M488.5 479.7l-2.0 2.2M461.6 447.7L466.3 454.4M466.3 454.4l-3.7 3.7M465.2 452.7l-2.1 2.1M479.2 434.0L484.4 440.3M484.4 440.3l-3.4 4.0M483.1 438.8l-1.9 2.3"/><path fill="none" stroke="#009d00" stroke-width="1" d="M526.9 576.7L533.9 581.0M533.9 581.0l-1.9 4.9M532.2 579.9l-1.1 2.8M599.1 536.0L606.2 540.2M606.2 540.2l-1.9 4.9M604.5 539.2l-1.1 2.8M586.9 522.5L593.2 527.7M593.2 527.7l-2.6 4.5M591.7 526.4l-1.5 2.6M547.6 72.3L554.7 68.2M554.7 68.2l3.3 4.0M553.0 69.2l1.9 2.3"/><path fill="none" stroke="#008b00" stroke-width="1" d="M539.0 576.7L545.5 581.6M545.5 581.6l-2.3 4.6M543.9 580.4l-1.3 2.7"/><path fill="none" stroke="#009600" stroke-width="1" d="M563.0 576.7L570.0 581.1M570.0 581.1l-1.9 4.8M568.3 580.0l-1.1 2.8M499.8 515.7L507.2 519.1M507.2 519.1l-1.3 5.0M505.4 518.3l-0.8 2.9M475.9 474.9L481.7 480.7M481.7 480.7l-3.0 4.2M480.3 479.3l-1.7 2.5M442.5 65.1L450.4 62.8M450.4 62.8l2.3 4.7M448.4 63.4l1.3 2.7M541.0 36.3L548.2 32.5M548.2 32.5l3.2 4.1M546.5 33.4l1.8 2.4"/><path fill="none" stroke="#00b400" stroke-width="1" d="M576.1 576.7L582.0 582.4M582.0 582.4l-2.9 4.3M580.5 581.1l-1.7 2.5M590.2 563.2L596.2 568.8M596.2 568.8l-2.9 4.3M594.7 567.5l-1.7 2.5M457.5 495.3L463.9 500.4M463.9 500.4l-2.5 4.5M462.3 499.2l-1.5 2.6M407.4 255.4L401.4 261.0M401.4 261.0l-4.2 -3.1M402.8 259.6l-2.4 -1.8"/><path fill="none" stroke="#00d800" stroke-width="1" d="M587.9 576.7L594.7 581.3M594.7 581.3l-2.1 4.8M593.0 580.2l-1.2 2.7M599.8 576.7L607.3 580.1M607.3 580.1l-1.3 5.0M605.5 579.3l-0.7 2.9M485.4 570.0L492.5 574.1M492.5 574.1l-1.8 4.9M490.8 573.1l-1.1 2.8M496.7 570.0L503.9 573.8M503.9 573.8l-1.6 4.9M502.1 572.9l-0.9 2.9M559.1 570.0L565.2 575.4M565.2 575.4l-2.8 4.4M563.7 574.1l-1.6 2.5M583.8 570.0L590.6 574.5M590.6 574.5l-2.1 4.8M588.9 573.4l-1.2 2.7M551.8 563.2L559.0 567.1M559.0 567.1l-1.7 4.9M557.3 566.2l-1.0 2.8M449.6 556.4L456.9 560.0M456.9 560.0l-1.5 5.0M455.1 559.1l-0.8 2.9M556.8 556.4L563.3 561.5M563.3 561.5l-2.5 4.6M561.7 560.2l-1.4 2.6M605.9 556.4L613.3 559.7M613.3 559.7l-1.3 5.0M611.5 558.9l-0.7 2.9M515.1 549.6L522.7 552.6M522.7 552.6l-1.1 5.1M520.9 551.9l-0.6 2.9M551.9 549.6L557.8 555.3M557.8 555.3l-2.9 4.3M556.4 553.9l-1.7 2.5M565.5 549.6L572.0 554.6M572.0 554.6l-2.4 4.6M570.4 553.4l-1.4 2.7M587.5 549.6L594.8 553.4M594.8 553.4l-1.6 5.0M593.0 552.5l-0.9 2.9M473.3 542.8L480.9 545.8M480.9 545.8l-1.1 5.1M479.1 545.1l-0.6 2.9M508.9 542.8L515.7 547.4M515.7 547.4l-2.1 4.8M514.0 546.2l-1.2 2.7M581.6 542.8L588.9 546.5M588.9 546.5l-1.5 5.0M587.1 545.6l-0.9 2.9M606.1 542.8L611.7 548.9M611.7 548.9l-3.2 4.1M610.3 547.4l-1.8 2.4M479.2 536.0L485.1 541.7M485.1 541.7l-2.9 4.3M483.6 540.3l-1.7 2.5M529.9 536.0L536.5 540.9M536.5 540.9l-2.3 4.6M534.9 539.7l-1.3 2.7M426.1 529.2L431.5 535.4M431.5 535.4l-3.2 4.1M430.2 533.9l-1.9 2.3M450.2 529.2L456.0 535.0M456.0 535.0l-3.0 4.3M454.5 533.6l-1.7 2.5M607.8 529.2L614.5 534.0M614.5 534.0l-2.2 4.7M612.8 532.8l-1.3 2.7M430.8 522.5L436.2 528.6M436.2 528.6l-3.2 4.1M434.9 527.1l-1.9 2.3M455.3 522.5L460.7 528.6M460.7 528.6l-3.3 4.1M459.4 527.1l-1.9 2.3M436.8 515.7L443.6 520.2M443.6 520.2l-2.1 4.8M441.9 519.1l-1.2 2.8M463.0 515.7L468.7 521.6M468.7 521.6l-3.1 4.2M467.3 520.1l-1.8 2.4M487.7 515.7L493.4 521.5M493.4 521.5l-3.0 4.2M492.0 520.1l-1.7 2.4M509.3 515.7L516.9 518.9M516.9 518.9l-1.2 5.1M515.0 518.1l-0.7 2.9M545.1 515.7L550.8 521.5M550.8 521.5l-3.0 4.2M549.4 520.1l-1.7 2.4M568.9 515.7L575.8 520.1M575.8 520.1l-2.0 4.8M574.1 519.0l-1.2 2.8M607.2 515.7L613.9 520.4M613.9 520.4l-2.2 4.7M612.3 519.2l-1.3 2.7M480.5 508.9L486.6 514.4M486.6 514.4l-2.8 4.4M485.1 513.1l-1.6 2.5M515.2 508.9L520.8 514.8M520.8 514.8l-3.1 4.2M519.5 513.3l-1.8 2.4M527.8 508.9L533.8 514.5M533.8 514.5l-2.8 4.4M532.4 513.1l-1.6 2.5M497.8 502.1L503.2 508.2M503.2 508.2l-3.2 4.1M501.9 506.7l-1.9 2.3M510.0 502.1L514.5 509.0M514.5 509.0l-3.8 3.5M513.4 507.3l-2.2 2.0M433.3 495.3L438.4 501.7M438.4 501.7l-3.5 3.9M437.1 500.1l-2.0 2.2M505.7 495.3L508.7 502.9M508.7 502.9l-4.4 2.7M508.0 501.0l-2.5 1.6M487.8 488.5L492.3 495.3M492.3 495.3l-3.8 3.6M491.2 493.7l-2.2 2.1M496.7 488.5L500.3 495.8M500.3 495.8l-4.2 3.1M499.4 494.0l-2.4 1.8M520.7 488.5L524.4 495.8M524.4 495.8l-4.2 3.1M523.5 494.0l-2.4 1.8M433.4 481.7L438.4 488.2M438.4 488.2l-3.5 3.8M437.2 486.6l-2.0 2.2M455.4 481.7L461.6 487.0M461.6 487.0l-2.6 4.5M460.1 485.7l-1.5 2.6M481.6 481.7L485.4 489.0M485.4 489.0l-4.1 3.2M484.5 487.2l-2.4 1.8M457.1 454.5L463.8 459.2M463.8 459.2l-2.2 4.7M462.2 458.1l-1.3 2.7M490.9 454.5L493.5 462.2M493.5 462.2l-4.6 2.5M492.9 460.3l-2.6 1.4M473.0 447.7L477.0 454.8M477.0 454.8l-4.0 3.3M476.0 453.1l-2.3 1.9M469.9 440.8L475.5 446.8M475.5 446.8l-3.1 4.2M474.2 445.4l-1.8 2.4M492.0 440.8L497.5 446.9M497.5 446.9l-3.1 4.1M496.2 445.4l-1.8 2.4M466.5 434.0L473.2 438.9M473.2 438.9l-2.3 4.7M471.5 437.7l-1.3 2.7M478.9 427.2L483.8 433.8M483.8 433.8l-3.6 3.8M482.6 432.2l-2.1 2.2M397.3 303.8L394.7 311.6M394.7 311.6l-5.1 -0.8M395.3 309.7l-3.0 -0.5M395.0 296.9L391.1 304.2M391.1 304.2l-4.9 -1.6M392.0 302.4l-2.9 -0.9M382.4 290.0L379.0 297.5M379.0 297.5l-5.0 -1.3M379.8 295.7l-2.9 -0.7M420.0 234.5L415.7 241.5M415.7 241.5l-4.8 -2.0M416.7 239.8l-2.8 -1.1M443.7 227.6L442.3 235.7M442.3 235.7l-5.2 0.1M442.6 233.7l-3.0 0.0M445.4 220.6L443.6 228.6M443.6 228.6l-5.2 -0.2M444.0 226.6l-3.0 -0.1M430.7 213.6L427.4 221.1M427.4 221.1l-5.1 -1.2M428.2 219.3l-2.9 -0.7M421.0 206.6L418.4 214.4M418.4 214.4l-5.1 -0.8M419.0 212.5l-3.0 -0.5M420.8 192.6L420.8 200.8M420.8 200.8l-5.1 0.9M420.8 198.8l-3.0 0.5M424.4 157.5L429.5 163.9M429.5 163.9l-3.4 3.9M428.3 162.3l-2.0 2.3M419.4 150.4L425.3 156.2M425.3 156.2l-2.9 4.3M423.9 154.8l-1.7 2.5M427.6 129.2L434.7 133.5M434.7 133.5l-1.9 4.9M433.0 132.4l-1.1 2.8M419.0 107.9L427.0 109.5M427.0 109.5l-0.1 5.2M425.1 109.1l-0.1 3.0M426.3 86.6L434.3 85.1M434.3 85.1l1.8 4.9M432.4 85.5l1.0 2.8M437.4 86.6L445.6 85.8M445.6 85.8l1.4 5.0M443.6 86.0l0.8 2.9"/><path fill="none" stroke="#00d700" stroke-width="1" d="M611.2 576.7L618.4 580.7M618.4 580.7l-1.7 4.9M616.6 579.7l-1.0 2.8M487.2 502.1L490.4 509.6M490.4 509.6l-4.4 2.8M489.6 507.8l-2.5 1.6"/><path fill="none" stroke="#001dea" stroke-width="1" d="M624.1 576.7L630.9 581.3M630.9 581.3l-2.1 4.7M614.3 536.0L619.8 542.1M619.8 542.1l-3.2 4.1M444.0 440.8L450.0 446.5M450.0 446.5l-2.9 4.3M408.6 434.0L414.2 440.0M414.2 440.0l-3.1 4.2M419.7 434.0L424.4 440.8M424.4 440.8l-3.7 3.7M418.8 427.2L423.7 433.8M423.7 433.8l-3.5 3.8M395.1 420.4L399.3 427.5M399.3 427.5l-4.0 3.4M468.5 386.2L471.4 393.9M471.4 393.9l-4.5 2.7M420.4 338.2L423.2 346.0M423.2 346.0l-4.5 2.6"/><path fill="none" stroke="#004ef3" stroke-width="1" d="M636.9 576.7L643.5 581.5M643.5 581.5l-2.3 4.7M406.4 310.7L405.5 318.9M405.5 318.9l-5.2 0.4"/><path fill="none" stroke="#0049f2" stroke-width="1" d="M647.2 576.7L654.5 580.5M654.5 580.5l-1.6 5.0M559.7 502.1L563.6 509.3M563.6 509.3l-4.1 3.2M469.1 399.9L471.1 407.8M471.1 407.8l-4.7 2.2M384.0 365.7L387.2 373.2M387.2 373.2l-4.3 2.9M408.6 296.9L408.0 305.1M408.0 305.1l-5.2 0.5M419.3 283.1L415.8 290.5M415.8 290.5l-5.0 -1.3M467.9 192.6L472.8 199.2M472.8 199.2l-3.6 3.8M487.8 157.5L495.7 159.7M495.7 159.7l-0.5 5.2M467.2 136.3L473.8 141.1M473.8 141.1l-2.2 4.7"/><path fill="none" stroke="#009300" stroke-width="1" d="M438.2 570.0L443.6 576.1M443.6 576.1l-3.3 4.1M442.3 574.6l-1.9 2.3M467.5 549.6L474.3 554.1M474.3 554.1l-2.0 4.8M472.7 553.0l-1.2 2.8M498.3 529.2L504.2 534.9M504.2 534.9l-2.9 4.3M502.7 533.5l-1.7 2.5M409.2 107.9L417.3 109.1M417.3 109.1l0.2 5.2M415.3 108.8l0.1 3.0M505.0 65.1L510.5 59.0M510.5 59.0l4.4 2.8M509.2 60.5l2.5 1.6M541.2 50.7L547.2 45.2M547.2 45.2l4.1 3.1M545.8 46.5l2.4 1.8"/><path fill="none" stroke="#00a900" stroke-width="1" d="M449.4 570.0L457.1 572.9M457.1 572.9l-1.0 5.1M455.2 572.2l-0.6 2.9M548.2 556.4L554.2 561.9M554.2 561.9l-2.8 4.4M552.7 560.6l-1.6 2.5M595.9 556.4L601.7 562.2M601.7 562.2l-3.0 4.2M600.3 560.8l-1.7 2.4M420.7 227.6L416.7 234.7M416.7 234.7l-4.9 -1.7M417.7 233.0l-2.8 -1.0"/><path fill="none" stroke="#00ad00" stroke-width="1" d="M461.7 570.0L468.6 574.5M468.6 574.5l-2.1 4.8M466.9 573.4l-1.2 2.8M509.4 570.0L516.2 574.5M516.2 574.5l-2.1 4.7M514.5 573.4l-1.2 2.7M406.3 93.7L414.3 92.0M414.3 92.0l1.9 4.8M412.3 92.4l1.1 2.8"/><path fill="none" stroke="#00b300" stroke-width="1" d="M473.1 570.0L480.8 572.8M480.8 572.8l-0.9 5.1M479.0 572.1l-0.5 3.0M479.2 468.1L485.0 473.9M485.0 473.9l-3.0 4.2M483.6 472.5l-1.7 2.4M385.2 269.3L378.8 274.4M378.8 274.4l-3.9 -3.4M380.4 273.2l-2.3 -2.0"/><path fill="none" stroke="#00a600" stroke-width="1" d="M523.3 570.0L529.7 575.1M529.7 575.1l-2.5 4.6M528.2 573.8l-1.4 2.6M439.1 542.8L445.9 547.4M445.9 547.4l-2.1 4.8M444.2 546.3l-1.2 2.7M436.6 529.2L441.6 535.7M441.6 535.7l-3.5 3.9M440.4 534.1l-2.0 2.2"/><path fill="none" stroke="#00c000" stroke-width="1" d="M535.8 570.0L543.0 573.9M543.0 573.9l-1.7 4.9M541.3 572.9l-1.0 2.8M486.4 461.3L489.6 468.8M489.6 468.8l-4.3 2.9M488.8 467.0l-2.5 1.7M419.3 136.3L425.8 141.3M425.8 141.3l-2.4 4.6M424.2 140.1l-1.4 2.7"/><path fill="none" stroke="#00d500" stroke-width="1" d="M548.3 570.0L554.6 575.1M554.6 575.1l-2.5 4.5M553.1 573.9l-1.5 2.6M467.2 495.3L473.1 501.1M473.1 501.1l-3.0 4.3M471.6 499.7l-1.7 2.5"/><path fill="none" stroke="#00b600" stroke-width="1" d="M572.0 570.0L578.4 575.1M578.4 575.1l-2.5 4.5M576.8 573.9l-1.5 2.6M491.0 563.2L496.8 569.0M496.8 569.0l-3.0 4.3M495.4 567.5l-1.7 2.5M420.7 549.6L426.4 555.5M426.4 555.5l-3.0 4.2M425.0 554.0l-1.8 2.4M467.9 481.7L472.6 488.4M472.6 488.4l-3.7 3.7M471.5 486.8l-2.1 2.1M421.0 164.5L423.1 172.5M423.1 172.5l-4.7 2.2M422.6 170.5l-2.7 1.3"/><path fill="none" stroke="#00a800" stroke-width="1" d="M594.7 570.0L600.9 575.4M600.9 575.4l-2.7 4.4M599.4 574.1l-1.6 2.6M563.9 563.2L571.6 566.0M571.6 566.0l-0.9 5.1M569.8 565.3l-0.5 3.0M462.5 72.3L470.7 72.6M470.7 72.6l0.7 5.2M468.7 72.5l0.4 3.0"/><path fill="none" stroke="#00c200" stroke-width="1" d="M607.9 570.0L613.8 575.7M613.8 575.7l-3.0 4.3M612.4 574.3l-1.7 2.5M486.4 556.4L493.5 560.4M493.5 560.4l-1.7 4.9M491.8 559.4l-1.0 2.8M449.5 542.8L455.5 548.4M455.5 548.4l-2.8 4.4M454.0 547.0l-1.6 2.5M419.8 178.6L421.5 186.6M421.5 186.6l-4.8 1.9M421.1 184.7l-2.8 1.1"/><path fill="none" stroke="#004af2" stroke-width="1" d="M629.2 570.0L635.8 574.8M635.8 574.8l-2.3 4.7M490.5 406.7L493.5 414.4M493.5 414.4l-4.4 2.7M457.9 393.1L462.1 400.1M462.1 400.1l-3.9 3.4M540.4 379.4L541.4 387.5M541.4 387.5l-5.0 1.5M454.8 310.7L454.2 318.9M454.2 318.9l-5.2 0.6M454.5 283.1L452.2 291.0M452.2 291.0l-5.2 -0.6M469.4 213.6L466.2 221.2M466.2 221.2l-5.1 -1.2"/><path fill="none" stroke="#001bea" stroke-width="1" d="M641.5 570.0L647.6 575.4M647.6 575.4l-2.7 4.4M618.9 556.4L624.0 562.8M624.0 562.8l-3.4 3.9M587.6 508.9L593.9 514.2M593.9 514.2l-2.6 4.5M431.9 427.2L435.9 434.4M435.9 434.4l-4.0 3.3M445.5 262.3L445.7 270.5M445.7 270.5l-5.1 1.0M406.3 241.5L400.3 247.0M400.3 247.0l-4.1 -3.2M463.4 185.6L466.8 193.1M466.8 193.1l-4.3 2.9M430.5 107.9L438.4 110.0M438.4 110.0l-0.4 5.2"/><path fill="none" stroke="#009900" stroke-width="1" d="M420.1 563.2L426.6 568.1M426.6 568.1l-2.4 4.6M425.0 566.9l-1.4 2.7M590.3 536.0L597.1 540.5M597.1 540.5l-2.1 4.8M595.5 539.4l-1.2 2.8M595.4 529.2L602.8 532.6M602.8 532.6l-1.3 5.0M601.0 531.8l-0.8 2.9"/><path fill="none" stroke="#007a00" stroke-width="1" d="M430.7 563.2L437.8 567.3M437.8 567.3l-1.8 4.9M436.0 566.3l-1.0 2.8M479.7 79.4L487.9 78.7M487.9 78.7l1.3 5.0M485.9 78.9l0.8 2.9"/><path fill="none" stroke="#00c900" stroke-width="1" d="M468.0 563.2L475.4 566.7M475.4 566.7l-1.4 5.0M473.6 565.9l-0.8 2.9M570.6 529.2L578.3 532.3M578.3 532.3l-1.0 5.1M576.4 531.5l-0.6 2.9M467.1 427.2L472.8 433.2M472.8 433.2l-3.1 4.2M471.4 431.7l-1.8 2.4M414.8 129.2L420.3 135.3M420.3 135.3l-3.2 4.1M418.9 133.8l-1.8 2.4M407.2 122.2L414.7 125.5M414.7 125.5l-1.3 5.0M412.9 124.7l-0.7 2.9"/><path fill="none" stroke="#00cf00" stroke-width="1" d="M481.9 563.2L488.6 567.9M488.6 567.9l-2.2 4.7M486.9 566.7l-1.3 2.7M523.7 556.4L531.0 560.1M531.0 560.1l-1.5 5.0M529.2 559.2l-0.9 2.9M504.0 549.6L509.7 555.4M509.7 555.4l-3.0 4.2M508.3 554.0l-1.7 2.4M576.2 549.6L583.4 553.5M583.4 553.5l-1.7 4.9M581.7 552.6l-1.0 2.8M443.6 508.9L450.1 513.8M450.1 513.8l-2.3 4.6M448.5 512.6l-1.3 2.7M396.3 290.0L393.1 297.5M393.1 297.5l-5.1 -1.2M393.9 295.7l-2.9 -0.7"/><path fill="none" stroke="#009e00" stroke-width="1" d="M503.0 563.2L509.9 567.7M509.9 567.7l-2.1 4.8M508.2 566.6l-1.2 2.8M432.9 549.6L440.0 553.7M440.0 553.7l-1.8 4.9M438.3 552.7l-1.0 2.8M461.0 461.3L465.5 468.1M465.5 468.1l-3.8 3.6M464.4 466.4l-2.2 2.1M414.6 100.8L422.6 102.3M422.6 102.3l-0.0 5.2M420.7 101.9l-0.0 3.0M444.2 79.4L452.3 80.5M452.3 80.5l0.2 5.2M450.3 80.3l0.1 3.0"/><path fill="none" stroke="#00a700" stroke-width="1" d="M517.8 563.2L525.2 566.8M525.2 566.8l-1.4 5.0M523.4 565.9l-0.8 2.9M547.4 542.8L553.9 547.8M553.9 547.8l-2.4 4.6M552.3 546.6l-1.4 2.7M557.2 542.8L564.4 546.7M564.4 546.7l-1.6 4.9M562.7 545.7l-0.9 2.8M593.5 542.8L600.1 547.6M600.1 547.6l-2.3 4.7M598.5 546.4l-1.3 2.7M451.3 488.5L456.8 494.5M456.8 494.5l-3.2 4.1M455.5 493.0l-1.8 2.4M491.1 468.1L495.0 475.3M495.0 475.3l-4.1 3.2M494.1 473.5l-2.4 1.9M383.7 283.1L379.1 289.9M379.1 289.9l-4.8 -2.1M380.3 288.3l-2.7 -1.2M408.0 213.6L402.8 219.9M402.8 219.9l-4.5 -2.6M404.0 218.4l-2.6 -1.5"/><path fill="none" stroke="#00b900" stroke-width="1" d="M529.9 563.2L537.6 566.1M537.6 566.1l-1.0 5.1M535.7 565.4l-0.6 2.9M436.8 556.4L444.1 560.1M444.1 560.1l-1.5 5.0M442.3 559.2l-0.9 2.9M551.8 536.0L557.6 541.8M557.6 541.8l-3.0 4.3M556.2 540.4l-1.7 2.5M438.3 502.1L443.5 508.4M443.5 508.4l-3.4 3.9M442.2 506.9l-2.0 2.3M450.6 474.9L455.5 481.4M455.5 481.4l-3.6 3.8M454.3 479.8l-2.1 2.2M406.5 234.5L401.3 240.9M401.3 240.9l-4.5 -2.5M402.6 239.3l-2.6 -1.5M413.6 199.6L415.3 207.7M415.3 207.7l-4.8 1.9M414.9 205.7l-2.8 1.1"/><path fill="none" stroke="#00bf00" stroke-width="1" d="M538.7 563.2L545.7 567.5M545.7 567.5l-1.9 4.8M544.0 566.4l-1.1 2.8M475.1 556.4L482.2 560.6M482.2 560.6l-1.8 4.9M480.4 559.6l-1.1 2.8M504.5 522.5L511.8 526.1M511.8 526.1l-1.4 5.0M510.0 525.2l-0.8 2.9M433.0 508.9L438.1 515.2M438.1 515.2l-3.4 3.9M436.9 513.7l-2.0 2.3M467.0 508.9L472.1 515.3M472.1 515.3l-3.4 3.9M470.9 513.7l-2.0 2.3M462.2 502.1L466.8 508.9M466.8 508.9l-3.8 3.6M465.7 507.3l-2.2 2.1M473.6 488.5L478.8 494.8M478.8 494.8l-3.4 4.0M477.5 493.3l-1.9 2.3"/><path fill="none" stroke="#00aa00" stroke-width="1" d="M577.6 563.2L585.1 566.4M585.1 566.4l-1.2 5.1M583.3 565.6l-0.7 2.9M473.2 502.1L479.2 507.7M479.2 507.7l-2.8 4.4M477.7 506.3l-1.6 2.5M493.4 481.7L497.6 488.7M497.6 488.7l-4.0 3.4M496.6 487.0l-2.3 2.0M413.4 115.1L421.4 116.9M421.4 116.9l-0.3 5.2M419.5 116.5l-0.2 3.0"/><path fill="none" stroke="#003af0" stroke-width="1" d="M624.6 563.2L631.8 567.0M631.8 567.0l-1.6 4.9M618.8 542.8L624.4 548.8M624.4 548.8l-3.2 4.1M631.6 515.7L638.0 520.8M638.0 520.8l-2.5 4.6M431.0 440.8L435.1 448.0M435.1 448.0l-4.0 3.3M395.4 406.7L397.2 414.8M397.2 414.8l-4.8 2.0M421.5 317.6L421.3 325.8M421.3 325.8l-5.1 0.8M467.7 262.3L466.7 270.5M466.7 270.5l-5.2 0.3M455.5 164.5L460.8 170.8M460.8 170.8l-3.4 4.0M474.8 157.5L482.0 161.4M482.0 161.4l-1.7 4.9M473.9 143.4L481.9 145.4M481.9 145.4l-0.4 5.2"/><path fill="none" stroke="#0019ea" stroke-width="1" d="M635.5 563.2L642.2 567.8M642.2 567.8l-2.1 4.7M403.3 461.3L409.7 466.3M409.7 466.3l-2.5 4.6M523.5 461.3L525.1 469.3M525.1 469.3l-4.9 1.9M373.1 331.4L374.6 339.4M374.6 339.4l-4.9 1.8M468.0 122.2L476.1 123.5M476.1 123.5l0.0 5.2"/><path fill="none" stroke="#007500" stroke-width="1" d="M427.5 556.4L434.1 561.3M434.1 561.3l-2.3 4.6M432.5 560.1l-1.3 2.7"/><path fill="none" stroke="#00b100" stroke-width="1" d="M461.3 556.4L467.3 562.0M467.3 562.0l-2.9 4.3M465.8 560.6l-1.7 2.5M450.2 502.1L455.0 508.7M455.0 508.7l-3.6 3.7M453.8 507.1l-2.1 2.2"/><path fill="none" stroke="#00ca00" stroke-width="1" d="M496.7 556.4L502.5 562.2M502.5 562.2l-3.0 4.3M501.1 560.8l-1.7 2.5M563.9 522.5L571.5 525.5M571.5 525.5l-1.1 5.1M569.7 524.8l-0.6 2.9M583.4 515.7L590.5 519.8M590.5 519.8l-1.8 4.9M588.8 518.8l-1.0 2.8M409.0 262.3L404.5 269.2M404.5 269.2l-4.8 -2.0M405.6 267.5l-2.8 -1.2M421.1 79.4L429.1 78.0M429.1 78.0l1.8 4.9M427.2 78.3l1.0 2.8"/><path fill="none" stroke="#00b800" stroke-width="1" d="M509.0 556.4L515.6 561.3M515.6 561.3l-2.3 4.7M514.0 560.1l-1.3 2.7M492.3 495.3L496.9 502.1M496.9 502.1l-3.7 3.6M495.7 500.4l-2.2 2.1M478.9 440.8L484.0 447.2M484.0 447.2l-3.4 3.9M482.7 445.7l-2.0 2.3M431.1 227.6L428.4 235.3M428.4 235.3l-5.1 -0.8M429.1 233.4l-3.0 -0.5M430.7 220.6L428.8 228.6M428.8 228.6l-5.2 -0.3M429.3 226.6l-3.0 -0.2M408.8 150.4L415.3 155.3M415.3 155.3l-2.3 4.6M413.7 154.2l-1.3 2.7"/><path fill="none" stroke="#00c100" stroke-width="1" d="M533.6 556.4L540.5 560.7M540.5 560.7l-1.9 4.8M538.8 559.6l-1.1 2.8M596.4 515.7L602.3 521.4M602.3 521.4l-2.9 4.3M600.8 520.0l-1.7 2.5M461.8 474.9L468.3 479.8M468.3 479.8l-2.4 4.6M466.7 478.6l-1.4 2.7"/><path fill="none" stroke="#00c700" stroke-width="1" d="M572.0 556.4L578.7 561.1M578.7 561.1l-2.2 4.7M577.1 560.0l-1.3 2.7M431.3 536.0L435.9 542.8M435.9 542.8l-3.7 3.6M434.7 541.2l-2.2 2.1M419.7 220.6L414.2 226.7M414.2 226.7l-4.4 -2.8M415.5 225.2l-2.5 -1.6M409.5 192.6L411.6 200.5M411.6 200.5l-4.7 2.2M411.1 198.6l-2.7 1.3"/><path fill="none" stroke="#00ce00" stroke-width="1" d="M580.9 556.4L586.8 562.1M586.8 562.1l-2.9 4.3M585.3 560.7l-1.7 2.5M455.2 549.6L461.5 554.9M461.5 554.9l-2.6 4.5M459.9 553.6l-1.5 2.6M479.1 549.6L486.2 553.8M486.2 553.8l-1.9 4.9M484.4 552.8l-1.1 2.8M570.9 542.8L577.2 548.1M577.2 548.1l-2.6 4.5M575.6 546.8l-1.5 2.6"/><path fill="none" stroke="#001feb" stroke-width="1" d="M631.7 556.4L637.3 562.4M637.3 562.4l-3.1 4.2M385.0 338.2L385.6 346.4M385.6 346.4l-5.0 1.3M444.7 338.2L445.6 346.4M445.6 346.4l-5.0 1.4M421.4 331.4L423.6 339.3M423.6 339.3l-4.7 2.2M430.8 269.3L428.2 277.0M428.2 277.0l-5.1 -0.7M492.7 93.7L500.9 93.4M500.9 93.4l1.1 5.1M499.6 86.6L507.7 85.0M507.7 85.0l1.9 4.9"/><path fill="none" stroke="#0032ee" stroke-width="1" d="M642.8 556.4L650.0 560.2M650.0 560.2l-1.6 4.9M408.0 508.9L412.1 516.0M412.1 516.0l-4.0 3.4M408.0 454.5L413.0 461.0M413.0 461.0l-3.5 3.8M419.1 440.8L423.7 447.6M423.7 447.6l-3.7 3.6M502.6 427.2L503.7 435.3M503.7 435.3l-4.9 1.6M394.8 379.4L395.8 387.5M395.8 387.5l-5.0 1.5M433.5 352.0L433.9 360.2M433.9 360.2l-5.1 1.2"/><path fill="none" stroke="#009400" stroke-width="1" d="M492.9 549.6L500.4 552.9M500.4 552.9l-1.3 5.0M498.6 552.1l-0.7 2.9M461.7 529.2L468.4 533.9M468.4 533.9l-2.2 4.7M466.8 532.8l-1.3 2.7M528.6 522.5L536.1 525.7M536.1 525.7l-1.2 5.1M534.3 524.9l-0.7 2.9"/><path fill="none" stroke="#009800" stroke-width="1" d="M528.1 549.6L534.1 555.2M534.1 555.2l-2.8 4.4M532.6 553.8l-1.6 2.5M533.2 529.2L540.5 533.0M540.5 533.0l-1.5 5.0M538.8 532.1l-0.9 2.9M491.4 522.5L499.0 525.5M499.0 525.5l-1.1 5.1M497.1 524.8l-0.6 2.9M408.7 136.3L414.7 141.8M414.7 141.8l-2.8 4.4M413.2 140.5l-1.6 2.5"/><path fill="none" stroke="#00a100" stroke-width="1" d="M600.2 549.6L607.7 552.8M607.7 552.8l-1.2 5.1M605.9 552.0l-0.7 2.9M509.2 529.2L515.0 535.0M515.0 535.0l-2.9 4.3M513.6 533.6l-1.7 2.5M578.1 522.5L584.5 527.6M584.5 527.6l-2.5 4.6M582.9 526.3l-1.4 2.6"/><path fill="none" stroke="#0033ee" stroke-width="1" d="M614.5 549.6L621.2 554.2M621.2 554.2l-2.2 4.7M529.7 495.3L533.4 502.6M533.4 502.6l-4.1 3.1M420.4 481.7L425.9 487.8M425.9 487.8l-3.2 4.1M455.5 317.6L456.8 325.7M456.8 325.7l-4.9 1.7M445.4 276.2L444.2 284.3M444.2 284.3l-5.2 0.1M485.9 86.6L494.1 85.8M494.1 85.8l1.4 5.0"/><path fill="none" stroke="#0030ee" stroke-width="1" d="M635.3 549.6L641.9 554.5M641.9 554.5l-2.3 4.6M413.7 529.2L419.4 535.2M419.4 535.2l-3.1 4.2M631.1 529.2L636.3 535.5M636.3 535.5l-3.3 4.0M444.2 399.9L446.9 407.7M446.9 407.7l-4.6 2.5"/><path fill="none" stroke="#008d00" stroke-width="1" d="M413.9 542.8L420.8 547.3M420.8 547.3l-2.0 4.8M419.2 546.2l-1.2 2.8M353.3 199.6L360.9 196.7M360.9 196.7l2.7 4.5M359.1 197.4l1.5 2.6"/><path fill="none" stroke="#009200" stroke-width="1" d="M427.1 542.8L432.6 548.9M432.6 548.9l-3.2 4.1M431.3 547.4l-1.8 2.4M406.6 220.6L402.7 227.8M402.7 227.8l-4.9 -1.6M403.7 226.1l-2.8 -0.9"/><path fill="none" stroke="#009100" stroke-width="1" d="M499.7 542.8L507.0 546.6M507.0 546.6l-1.5 5.0M505.2 545.7l-0.9 2.9"/><path fill="none" stroke="#00b200" stroke-width="1" d="M534.2 542.8L540.6 547.9M540.6 547.9l-2.5 4.6M539.0 546.6l-1.4 2.6M443.4 536.0L449.8 541.1M449.8 541.1l-2.5 4.6M448.3 539.9l-1.4 2.6M539.4 522.5L546.2 527.1M546.2 527.1l-2.1 4.7M544.5 525.9l-1.2 2.7M415.7 157.5L419.9 164.5M419.9 164.5l-3.9 3.4M418.9 162.8l-2.3 2.0M407.0 79.4L415.0 77.9M415.0 77.9l1.8 4.9M413.1 78.3l1.1 2.8"/><path fill="none" stroke="#00af00" stroke-width="1" d="M418.8 536.0L424.9 541.5M424.9 541.5l-2.8 4.4M423.4 540.2l-1.6 2.5M454.4 468.1L459.9 474.1M459.9 474.1l-3.2 4.1M458.5 472.7l-1.8 2.4"/><path fill="none" stroke="#009f00" stroke-width="1" d="M492.0 536.0L499.0 540.3M499.0 540.3l-1.9 4.8M497.3 539.3l-1.1 2.8M553.1 522.5L560.5 525.9M560.5 525.9l-1.3 5.0M558.7 525.0l-0.8 2.9M473.7 515.7L479.6 521.3M479.6 521.3l-2.9 4.3M478.2 520.0l-1.7 2.5"/><path fill="none" stroke="#00bc00" stroke-width="1" d="M505.7 536.0L513.2 539.4M513.2 539.4l-1.3 5.0M511.4 538.6l-0.8 2.9M540.0 536.0L547.5 539.5M547.5 539.5l-1.3 5.0M545.7 538.6l-0.8 2.9M478.7 495.3L484.7 500.8M484.7 500.8l-2.8 4.4M483.2 499.5l-1.6 2.5"/><path fill="none" stroke="#00b500" stroke-width="1" d="M514.7 536.0L521.2 541.0M521.2 541.0l-2.4 4.6M519.6 539.8l-1.4 2.7M535.6 515.7L542.7 519.9M542.7 519.9l-1.9 4.9M541.0 518.9l-1.1 2.8M503.6 508.9L508.3 515.6M508.3 515.6l-3.7 3.7M507.2 514.0l-2.1 2.1M382.4 310.7L378.9 318.1M378.9 318.1l-5.0 -1.4M379.7 316.3l-2.9 -0.8M420.1 93.7L428.3 93.4M428.3 93.4l1.1 5.1M426.3 93.5l0.6 2.9"/><path fill="none" stroke="#00d400" stroke-width="1" d="M578.3 536.0L585.8 539.3M585.8 539.3l-1.2 5.0M584.0 538.5l-0.7 2.9"/><path fill="none" stroke="#001cea" stroke-width="1" d="M623.6 536.0L630.5 540.5M630.5 540.5l-2.0 4.8M636.6 536.0L642.0 542.2M642.0 542.2l-3.2 4.1M508.7 474.9L510.5 482.9M510.5 482.9l-4.8 2.0"/><path fill="none" stroke="#00c500" stroke-width="1" d="M520.9 529.2L527.1 534.5M527.1 534.5l-2.6 4.5M525.6 533.2l-1.5 2.6M479.8 454.5L483.9 461.6M483.9 461.6l-4.0 3.3M482.9 459.9l-2.3 1.9M427.6 199.6L427.2 207.8M427.2 207.8l-5.2 0.6M427.3 205.8l-3.0 0.4M415.2 185.6L415.8 193.8M415.8 193.8l-5.0 1.3M415.6 191.8l-2.9 0.7"/><path fill="none" stroke="#00d600" stroke-width="1" d="M547.7 529.2L554.5 533.8M554.5 533.8l-2.1 4.8M552.8 532.7l-1.2 2.8M516.3 495.3L519.8 502.7M519.8 502.7l-4.2 3.0M519.0 500.9l-2.4 1.8"/><path fill="none" stroke="#0041f1" stroke-width="1" d="M619.3 529.2L624.6 535.5M624.6 535.5l-3.3 4.0M414.1 502.1L418.6 509.0M418.6 509.0l-3.8 3.5M600.7 468.1L604.5 475.4M604.5 475.4l-4.1 3.2M588.7 454.5L591.1 462.3M591.1 462.3l-4.6 2.4M512.1 447.7L514.1 455.6M514.1 455.6l-4.8 2.1M468.1 406.7L471.8 414.1M471.8 414.1l-4.2 3.1M395.5 386.2L398.7 393.8M398.7 393.8l-4.3 2.9M421.6 352.0L424.5 359.6M424.5 359.6l-4.5 2.6M443.7 352.0L444.0 360.2M444.0 360.2l-5.1 1.1M430.8 303.8L430.4 312.0M430.4 312.0l-5.2 0.7M486.5 199.6L492.8 204.9M492.8 204.9l-2.6 4.5M475.3 115.1L483.2 117.3M483.2 117.3l-0.6 5.2M439.4 100.8L447.4 102.5M447.4 102.5l-0.1 5.2"/><path fill="none" stroke="#00c400" stroke-width="1" d="M468.4 522.5L474.6 527.9M474.6 527.9l-2.7 4.4M473.1 526.6l-1.6 2.6"/><path fill="none" stroke="#009500" stroke-width="1" d="M480.0 522.5L486.4 527.6M486.4 527.6l-2.5 4.5M484.9 526.4l-1.5 2.6"/><path fill="none" stroke="#00a300" stroke-width="1" d="M514.8 522.5L522.5 525.4M522.5 525.4l-1.0 5.1M520.6 524.7l-0.6 2.9"/><path fill="none" stroke="#00a400" stroke-width="1" d="M600.6 522.5L607.6 526.8M607.6 526.8l-1.9 4.8M605.9 525.7l-1.1 2.8M395.7 164.5L400.6 171.2M400.6 171.2l-3.6 3.8M399.4 169.5l-2.1 2.2M414.8 86.6L423.0 86.2M423.0 86.2l1.1 5.1M421.0 86.3l0.6 2.9"/><path fill="none" stroke="#0045f2" stroke-width="1" d="M611.8 522.5L618.8 526.8M618.8 526.8l-1.9 4.8M415.4 515.7L421.9 520.7M421.9 520.7l-2.4 4.6M418.8 399.9L420.6 407.9M420.6 407.9l-4.8 2.0M480.0 372.5L481.7 380.6M481.7 380.6l-4.8 1.9M418.9 345.1L419.2 353.3M419.2 353.3l-5.1 1.1M431.0 345.1L433.1 353.0M433.1 353.0l-4.7 2.2M445.1 331.4L445.3 339.6M445.3 339.6l-5.1 1.0M454.9 150.4L462.1 154.4M462.1 154.4l-1.7 4.9"/><path fill="none" stroke="#0043f1" stroke-width="1" d="M623.2 522.5L628.8 528.4M628.8 528.4l-3.1 4.2M611.7 468.1L615.6 475.3M615.6 475.3l-4.1 3.2M409.3 413.6L411.5 421.5M411.5 421.5l-4.7 2.3M457.2 255.4L457.2 263.6M457.2 263.6l-5.1 0.9M451.8 143.4L458.1 148.6M458.1 148.6l-2.6 4.5"/><path fill="none" stroke="#00ae00" stroke-width="1" d="M450.8 515.7L456.1 521.9M456.1 521.9l-3.3 4.0M454.8 520.4l-1.9 2.3M457.4 508.9L462.5 515.3M462.5 515.3l-3.4 3.9M461.3 513.7l-2.0 2.3M439.6 488.5L445.7 494.0M445.7 494.0l-2.7 4.4M444.2 492.6l-1.6 2.5M444.5 481.7L449.2 488.4M449.2 488.4l-3.7 3.7M448.0 486.8l-2.1 2.1"/><path fill="none" stroke="#00a500" stroke-width="1" d="M523.7 515.7L530.0 520.9M530.0 520.9l-2.6 4.5M528.4 519.6l-1.5 2.6M444.2 495.3L450.2 500.9M450.2 500.9l-2.9 4.3M448.7 499.5l-1.7 2.5"/><path fill="none" stroke="#0021eb" stroke-width="1" d="M618.6 515.7L625.1 520.6M625.1 520.6l-2.4 4.6M409.4 495.3L413.8 502.2M413.8 502.2l-3.8 3.5M539.4 481.7L540.9 489.7M540.9 489.7l-4.9 1.8"/><path fill="none" stroke="#002bed" stroke-width="1" d="M419.0 508.9L424.2 515.2M424.2 515.2l-3.4 3.9M439.7 474.9L444.9 481.3M444.9 481.3l-3.4 3.9M431.4 386.2L433.4 394.2M433.4 394.2l-4.8 2.1M433.6 365.7L437.2 373.1M437.2 373.1l-4.2 3.0M420.4 296.9L419.9 305.1M419.9 305.1l-5.2 0.6M437.6 115.1L444.6 119.2M444.6 119.2l-1.8 4.9M467.3 93.7L475.1 96.2M475.1 96.2l-0.7 5.2"/><path fill="none" stroke="#0031ee" stroke-width="1" d="M539.9 508.9L542.9 516.5M542.9 516.5l-4.4 2.7M481.2 399.9L484.6 407.4M484.6 407.4l-4.3 2.9M469.2 358.8L470.0 367.0M470.0 367.0l-5.0 1.4M474.6 86.6L482.7 87.9M482.7 87.9l0.0 5.2"/><path fill="none" stroke="#0040f1" stroke-width="1" d="M553.4 508.9L556.4 516.5M556.4 516.5l-4.4 2.7M402.6 488.5L407.4 495.1M407.4 495.1l-3.6 3.7M444.3 420.4L449.9 426.4M449.9 426.4l-3.2 4.1M408.4 379.4L412.0 386.8M412.0 386.8l-4.2 3.0M419.8 379.4L421.0 387.5M421.0 387.5l-4.9 1.7M474.5 100.8L482.7 100.7M482.7 100.7l1.0 5.1"/><path fill="none" stroke="#002aed" stroke-width="1" d="M563.2 508.9L566.4 516.4M566.4 516.4l-4.4 2.8M527.0 481.7L529.0 489.6M529.0 489.6l-4.7 2.2M409.6 440.8L413.5 448.1M413.5 448.1l-4.1 3.2M497.4 100.8L505.6 101.1M505.6 101.1l0.7 5.1"/><path fill="none" stroke="#0029ec" stroke-width="1" d="M612.4 508.9L617.0 515.7M617.0 515.7l-3.8 3.6M445.2 468.1L451.4 473.4M451.4 473.4l-2.6 4.5M442.9 136.3L448.9 142.0M448.9 142.0l-2.9 4.3"/><path fill="none" stroke="#0042f1" stroke-width="1" d="M624.9 508.9L629.3 515.7M629.3 515.7l-3.8 3.6M607.3 502.1L610.4 509.7M610.4 509.7l-4.4 2.8M617.2 488.5L620.6 495.9M620.6 495.9l-4.3 2.9M493.3 399.9L496.2 407.6M496.2 407.6l-4.4 2.7M372.4 310.7L369.5 318.4M369.5 318.4l-5.1 -1.0"/><path fill="none" stroke="#0023eb" stroke-width="1" d="M427.6 502.1L434.0 507.3M434.0 507.3l-2.5 4.5M456.4 379.4L459.5 387.0M459.5 387.0l-4.4 2.8M383.8 372.5L386.3 380.4M386.3 380.4l-4.6 2.4M394.5 352.0L398.0 359.4M398.0 359.4l-4.3 3.0M455.7 345.1L458.5 352.8M458.5 352.8l-4.5 2.6M444.7 296.9L444.5 305.1M444.5 305.1l-5.1 0.8"/><path fill="none" stroke="#003ef0" stroke-width="1" d="M533.6 502.1L536.3 509.8M536.3 509.8l-4.5 2.5M430.8 420.4L435.4 427.2M435.4 427.2l-3.8 3.6M444.3 406.7L448.6 413.7M448.6 413.7l-3.9 3.4M420.0 290.0L417.0 297.6M417.0 297.6l-5.1 -1.0M430.8 255.4L428.6 263.3M428.6 263.3l-5.2 -0.5M456.4 206.6L455.5 214.8M455.5 214.8l-5.2 0.3"/><path fill="none" stroke="#0039ef" stroke-width="1" d="M548.1 502.1L552.2 509.2M552.2 509.2l-4.0 3.3M551.6 481.7L553.8 489.6M553.8 489.6l-4.7 2.2M515.9 454.5L517.6 462.5M517.6 462.5l-4.8 2.0M397.0 440.8L402.0 447.4M402.0 447.4l-3.5 3.8M444.9 150.4L450.5 156.5M450.5 156.5l-3.1 4.1"/><path fill="none" stroke="#002eed" stroke-width="1" d="M569.3 502.1L571.9 509.9M571.9 509.9l-4.6 2.5M527.4 468.1L529.4 476.0M529.4 476.0l-4.7 2.1M468.7 164.5L475.3 169.4M475.3 169.4l-2.3 4.7"/><path fill="none" stroke="#0050f4" stroke-width="1" d="M583.2 502.1L586.5 509.6M586.5 509.6l-4.3 2.9M492.5 164.5L500.7 164.2M500.7 164.2l1.1 5.1"/><path fill="none" stroke="#0029ed" stroke-width="1" d="M593.7 502.1L598.4 508.8M598.4 508.8l-3.7 3.7M412.6 461.3L417.9 467.6M417.9 467.6l-3.3 4.0M395.1 317.6L393.4 325.6M393.4 325.6l-5.2 -0.2M419.9 248.4L416.2 255.8M416.2 255.8l-5.0 -1.5"/><path fill="none" stroke="#005ff6" stroke-width="1" d="M618.7 502.1L622.8 509.2M622.8 509.2l-4.0 3.3M493.1 386.2L493.8 394.4M493.8 394.4l-5.0 1.4M505.4 93.7L511.5 88.2M511.5 88.2l4.1 3.2"/><path fill="none" stroke="#004cf3" stroke-width="1" d="M542.2 495.3L545.1 502.9M545.1 502.9l-4.4 2.7M421.4 468.1L426.0 474.9M426.0 474.9l-3.7 3.6M397.7 399.9L400.1 407.7M400.1 407.7l-4.6 2.4M431.0 338.2L434.4 345.7M434.4 345.7l-4.3 2.9M523.3 100.8L528.6 94.6M528.6 94.6l4.5 2.6"/><path fill="none" stroke="#0067f8" stroke-width="1" d="M553.0 495.3L555.5 503.1M555.5 503.1l-4.6 2.4M623.6 468.1L626.8 475.7M626.8 475.7l-4.4 2.8M550.8 427.2L552.0 435.3M552.0 435.3l-4.9 1.6M565.1 427.2L566.2 435.3M566.2 435.3l-5.0 1.6M518.0 420.4L520.1 428.3M520.1 428.3l-4.7 2.2M491.2 413.6L492.8 421.6M492.8 421.6l-4.8 1.9M481.7 393.1L483.0 401.2M483.0 401.2l-4.9 1.7M562.9 393.1L564.9 401.0M564.9 401.0l-4.7 2.1M467.5 365.7L469.1 373.7M469.1 373.7l-4.8 1.9M528.0 365.7L530.6 373.5M530.6 373.5l-4.6 2.5M481.5 345.1L482.9 353.2M482.9 353.2l-4.9 1.8M498.3 171.6L497.5 163.4M497.5 163.4l5.0 -1.4M479.5 107.9L487.5 109.9M487.5 109.9l-0.3 5.2"/><path fill="none" stroke="#0022eb" stroke-width="1" d="M565.3 495.3L568.9 502.6M568.9 502.6l-4.2 3.1M431.1 454.5L436.4 460.7M436.4 460.7l-3.3 4.0M394.9 324.5L394.6 332.7M394.6 332.7l-5.2 0.7M406.6 283.1L402.4 290.1M402.4 290.1l-4.9 -1.9M455.6 276.2L453.1 284.0M453.1 284.0l-5.2 -0.7M455.0 241.5L454.7 249.7M454.7 249.7l-5.2 0.7M466.4 206.6L466.5 214.8M466.5 214.8l-5.1 1.0M430.7 164.5L436.5 170.4M436.5 170.4l-3.0 4.2M444.7 107.9L452.4 110.9M452.4 110.9l-1.0 5.1M433.3 93.7L440.9 96.7M440.9 96.7l-1.1 5.1"/><path fill="none" stroke="#004ff3" stroke-width="1" d="M578.4 495.3L581.9 502.7M581.9 502.7l-4.2 3.0M444.6 434.0L450.8 439.3M450.8 439.3l-2.6 4.5M455.1 427.2L460.9 433.0M460.9 433.0l-3.0 4.3M433.2 413.6L436.9 420.9M436.9 420.9l-4.2 3.1M445.4 393.1L446.8 401.2M446.8 401.2l-4.9 1.8M430.8 358.8L433.7 366.5M433.7 366.5l-4.4 2.7M406.3 331.4L408.8 339.2M408.8 339.2l-4.6 2.4M445.3 241.5L444.9 249.7M444.9 249.7l-5.2 0.7M480.3 93.7L488.5 93.9M488.5 93.9l0.8 5.1"/><path fill="none" stroke="#0074fa" stroke-width="1" d="M590.1 495.3L593.0 502.9M593.0 502.9l-4.5 2.7M521.2 447.7L522.7 455.7M522.7 455.7l-4.9 1.8M504.7 192.6L502.5 184.7M502.5 184.7l4.7 -2.2M498.2 143.4L497.3 135.2M497.3 135.2l5.0 -1.5"/><path fill="none" stroke="#0069f8" stroke-width="1" d="M601.2 495.3L604.1 503.0M604.1 503.0l-4.5 2.6M480.5 255.4L478.3 263.3M478.3 263.3l-5.2 -0.5"/><path fill="none" stroke="#005ef6" stroke-width="1" d="M612.3 495.3L616.4 502.4M616.4 502.4l-4.0 3.3M557.5 488.5L562.0 495.4M562.0 495.4l-3.8 3.5M481.9 303.8L480.6 311.9M480.6 311.9l-5.2 0.1M469.3 220.6L466.1 228.1M466.1 228.1l-5.1 -1.2"/><path fill="none" stroke="#0066f7" stroke-width="1" d="M625.8 495.3L630.1 502.3M630.1 502.3l-3.9 3.5M535.7 461.3L537.8 469.2M537.8 469.2l-4.7 2.2M485.2 185.6L491.7 190.7M491.7 190.7l-2.5 4.6M487.8 143.4L494.8 147.7M494.8 147.7l-1.9 4.8"/><path fill="none" stroke="#004bf3" stroke-width="1" d="M424.9 488.5L429.3 495.4M429.3 495.4l-3.8 3.5M605.8 488.5L610.9 494.9M610.9 494.9l-3.5 3.9M503.2 434.0L504.4 442.1M504.4 442.1l-4.9 1.7M517.2 393.1L517.6 401.3M517.6 401.3l-5.1 1.2"/><path fill="none" stroke="#0059f5" stroke-width="1" d="M546.2 488.5L548.8 496.3M548.8 496.3l-4.6 2.5M614.2 481.7L618.1 488.9M618.1 488.9l-4.1 3.2M408.2 372.5L410.8 380.3M410.8 380.3l-4.6 2.5M492.6 365.7L494.7 373.6M494.7 373.6l-4.7 2.2M418.8 324.5L419.5 332.7M419.5 332.7l-5.0 1.3"/><path fill="none" stroke="#003cf0" stroke-width="1" d="M568.8 488.5L573.4 495.3M573.4 495.3l-3.8 3.6M617.8 474.9L620.0 482.8M620.0 482.8l-4.7 2.3M480.7 386.2L481.8 394.4M481.8 394.4l-5.0 1.6M406.2 317.6L405.1 325.7M405.1 325.7l-5.2 0.2"/><path fill="none" stroke="#006ff9" stroke-width="1" d="M584.3 488.5L586.5 496.4M586.5 496.4l-4.7 2.2M550.9 434.0L551.9 442.2M551.9 442.2l-5.0 1.5"/><path fill="none" stroke="#007bfb" stroke-width="1" d="M593.4 488.5L596.5 496.1M596.5 496.1l-4.4 2.8M528.6 413.6L530.7 421.5M530.7 421.5l-4.7 2.2M528.9 386.2L528.2 394.4M528.2 394.4l-5.2 0.5"/><path fill="none" stroke="#0060f6" stroke-width="1" d="M564.5 481.7L568.1 489.0M568.1 489.0l-4.2 3.1M514.7 379.4L515.6 387.5M515.6 387.5l-5.0 1.4M480.4 317.6L481.9 325.7M481.9 325.7l-4.9 1.9M516.1 93.7L523.1 89.3M523.1 89.3l3.5 3.9"/><path fill="none" stroke="#003aef" stroke-width="1" d="M577.6 481.7L581.0 489.1M581.0 489.1l-4.3 3.0"/><path fill="none" stroke="#003df0" stroke-width="1" d="M587.2 481.7L589.6 489.5M589.6 489.5l-4.6 2.4M541.6 468.1L544.8 475.6M544.8 475.6l-4.4 2.8M395.2 454.5L401.2 460.1M401.2 460.1l-2.8 4.4M454.7 420.4L459.2 427.2M459.2 427.2l-3.8 3.6M385.4 386.2L387.1 394.3M387.1 394.3l-4.8 1.9M431.3 379.4L432.8 387.5M432.8 387.5l-4.9 1.8M420.1 372.5L421.9 380.6M421.9 380.6l-4.8 2.0M443.5 365.7L446.4 373.4M446.4 373.4l-4.5 2.7M444.8 290.0L443.3 298.1M443.3 298.1l-5.2 -0.0M473.5 129.2L480.5 133.5M480.5 133.5l-1.9 4.8M450.4 100.8L457.8 104.3M457.8 104.3l-1.3 5.0M462.0 100.8L470.0 102.2M470.0 102.2l0.0 5.2M530.0 93.7L536.3 88.6M536.3 88.6l3.9 3.4"/><path fill="none" stroke="#0054f4" stroke-width="1" d="M599.8 481.7L602.2 489.5M602.2 489.5l-4.6 2.4M442.7 345.1L445.0 353.0M445.0 353.0l-4.7 2.3"/><path fill="none" stroke="#006ef9" stroke-width="1" d="M625.2 481.7L630.0 488.3M630.0 488.3l-3.6 3.8M539.3 440.8L542.2 448.5M542.2 448.5l-4.4 2.7M564.4 440.8L564.8 449.0M564.8 449.0l-5.1 1.1M493.4 420.4L495.9 428.2M495.9 428.2l-4.6 2.4"/><path fill="none" stroke="#002fee" stroke-width="1" d="M426.4 474.9L432.7 480.2M432.7 480.2l-2.6 4.5M456.7 399.9L460.1 407.4M460.1 407.4l-4.3 2.9M457.6 331.4L459.7 339.3M459.7 339.3l-4.7 2.2M433.0 283.1L433.1 291.3M433.1 291.3l-5.1 1.0M340.8 199.6L347.1 194.4M347.1 194.4l4.0 3.4"/><path fill="none" stroke="#0028ec" stroke-width="1" d="M533.2 474.9L534.2 483.0M534.2 483.0l-5.0 1.5M443.0 324.5L445.9 332.1M445.9 332.1l-4.5 2.7M484.8 100.8L493.0 100.3M493.0 100.3l1.2 5.1"/><path fill="none" stroke="#0052f4" stroke-width="1" d="M547.2 474.9L549.2 482.8M549.2 482.8l-4.7 2.1M514.9 427.2L515.0 435.4M515.0 435.4l-5.1 1.0"/><path fill="none" stroke="#006cf9" stroke-width="1" d="M559.5 474.9L562.4 482.6M562.4 482.6l-4.5 2.7M565.6 372.5L566.8 380.7M566.8 380.7l-4.9 1.6M490.6 276.2L490.2 284.4M490.2 284.4l-5.2 0.6M480.2 248.4L478.3 256.4M478.3 256.4l-5.2 -0.3M493.0 150.4L500.1 146.4M500.1 146.4l3.3 4.0"/><path fill="none" stroke="#006df9" stroke-width="1" d="M569.7 474.9L572.1 482.7M572.1 482.7l-4.6 2.3M581.5 474.9L585.5 482.0M585.5 482.0l-4.0 3.3M506.0 150.4L504.1 142.5M504.1 142.5l4.8 -2.1M509.2 86.6L515.0 80.8M515.0 80.8l4.2 3.0"/><path fill="none" stroke="#0082fc" stroke-width="1" d="M595.4 474.9L597.5 482.8M597.5 482.8l-4.7 2.2M588.7 468.1L590.0 476.2M590.0 476.2l-4.9 1.7M503.7 178.6L506.4 170.9M506.4 170.9l5.1 0.8"/><path fill="none" stroke="#0081fc" stroke-width="1" d="M605.7 474.9L607.6 482.9M607.6 482.9l-4.8 2.1M620.2 461.3L623.2 468.9M623.2 468.9l-4.4 2.7M504.6 413.6L509.0 420.5M509.0 420.5l-3.9 3.5M496.8 157.5L498.6 149.5M498.6 149.5l5.2 0.2"/><path fill="none" stroke="#0048f2" stroke-width="1" d="M409.5 468.1L415.3 473.8M415.3 473.8l-2.9 4.3M596.4 461.3L597.7 469.4M597.7 469.4l-4.9 1.7M414.1 447.7L419.6 453.7M419.6 453.7l-3.1 4.1M504.3 379.4L504.1 387.6M504.1 387.6l-5.1 0.8M431.4 372.5L432.3 380.7M432.3 380.7l-5.0 1.5M406.5 358.8L407.6 367.0M407.6 367.0l-5.0 1.6M457.2 358.8L459.2 366.8M459.2 366.8l-4.8 2.1"/><path fill="none" stroke="#0057f5" stroke-width="1" d="M503.3 468.1L506.8 475.5M506.8 475.5l-4.2 3.0M505.2 454.5L508.0 462.2M508.0 462.2l-4.5 2.6M574.9 454.5L576.6 462.5M576.6 462.5l-4.8 1.9M527.8 406.7L530.4 414.5M530.4 414.5l-4.6 2.5M529.0 399.9L532.1 407.5M532.1 407.5l-4.4 2.8M395.2 345.1L397.9 352.9M397.9 352.9l-4.6 2.5M520.8 86.6L526.8 80.9M526.8 80.9l4.2 3.1"/><path fill="none" stroke="#0037ef" stroke-width="1" d="M516.8 468.1L520.3 475.5M520.3 475.5l-4.2 3.0M481.8 413.6L485.6 420.8M485.6 420.8l-4.1 3.2M408.8 399.9L412.9 407.0M412.9 407.0l-3.9 3.4M397.5 358.8L399.7 366.7M399.7 366.7l-4.7 2.3M451.7 171.6L457.0 177.9M457.0 177.9l-3.4 4.0"/><path fill="none" stroke="#0072fa" stroke-width="1" d="M565.4 468.1L566.4 476.2M566.4 476.2l-5.0 1.5M570.7 461.3L573.1 469.1M573.1 469.1l-4.6 2.3M505.5 440.8L507.9 448.7M507.9 448.7l-4.6 2.3M480.7 358.8L481.4 367.0M481.4 367.0l-5.0 1.3M479.7 227.6L477.7 235.5M477.7 235.5l-5.2 -0.4M340.0 185.6L347.3 181.8M347.3 181.8l3.2 4.1"/><path fill="none" stroke="#003bf0" stroke-width="1" d="M576.1 468.1L577.1 476.2M577.1 476.2l-5.0 1.6M509.8 461.3L510.2 469.5M510.2 469.5l-5.1 1.1M541.4 454.5L542.5 462.6M542.5 462.6l-5.0 1.6M394.6 434.0L401.1 439.1M401.1 439.1l-2.4 4.6M385.0 393.1L388.2 400.6M388.2 400.6l-4.4 2.8M382.2 324.5L381.9 332.7M381.9 332.7l-5.2 0.7M443.2 310.7L443.7 318.9M443.7 318.9l-5.1 1.2M474.1 199.6L478.2 206.8M478.2 206.8l-4.0 3.3M490.9 192.6L496.4 198.7M496.4 198.7l-3.2 4.1M481.8 164.5L489.0 168.5M489.0 168.5l-1.7 4.9M529.3 107.9L533.2 100.7M533.2 100.7l4.9 1.6"/><path fill="none" stroke="#0047f2" stroke-width="1" d="M425.2 461.3L430.8 467.3M430.8 467.3l-3.2 4.1M558.3 461.3L560.9 469.1M560.9 469.1l-4.6 2.5M607.2 461.3L609.3 469.2M609.3 469.2l-4.7 2.2M499.7 447.7L500.5 455.8M500.5 455.8l-5.0 1.3M479.3 406.7L483.3 413.9M483.3 413.9l-4.0 3.3M456.5 372.5L456.9 380.7M456.9 380.7l-5.1 1.1M408.4 338.2L411.8 345.7M411.8 345.7l-4.3 3.0M505.7 107.9L511.0 101.7M511.0 101.7l4.5 2.6"/><path fill="none" stroke="#00c300" stroke-width="1" d="M473.8 461.3L477.9 468.4M477.9 468.4l-4.0 3.4M476.9 466.6l-2.3 1.9"/><path fill="none" stroke="#003ff1" stroke-width="1" d="M499.3 461.3L502.5 468.8M502.5 468.8l-4.4 2.8M431.7 262.3L431.3 270.5M431.3 270.5l-5.2 0.6M455.5 262.3L454.0 270.4M454.0 270.4l-5.2 -0.1"/><path fill="none" stroke="#0025ec" stroke-width="1" d="M548.2 461.3L551.2 468.9M551.2 468.9l-4.4 2.7M394.6 427.2L400.3 433.1M400.3 433.1l-3.1 4.2M397.2 413.6L398.7 421.6M398.7 421.6l-4.9 1.8M461.8 199.6L463.7 207.6M463.7 207.6l-4.8 2.0M432.7 122.2L440.5 124.8M440.5 124.8l-0.8 5.1"/><path fill="none" stroke="#0082fd" stroke-width="1" d="M582.7 461.3L586.7 468.4M586.7 468.4l-4.0 3.3M487.8 171.6L495.4 174.9M495.4 174.9l-1.2 5.1"/><path fill="none" stroke="#0034ee" stroke-width="1" d="M418.2 454.5L422.4 461.5M422.4 461.5l-4.0 3.4M432.9 248.4L428.8 255.6M428.8 255.6l-4.9 -1.7M449.4 185.6L449.8 193.8M449.8 193.8l-5.1 1.1M456.6 122.2L464.6 123.9M464.6 123.9l-0.2 5.2"/><path fill="none" stroke="#0050f3" stroke-width="1" d="M552.5 454.5L553.6 462.6M553.6 462.6l-4.9 1.6M515.0 413.6L518.9 420.8M518.9 420.8l-4.1 3.2M433.1 296.9L433.7 305.1M433.7 305.1l-5.0 1.3"/><path fill="none" stroke="#0077fa" stroke-width="1" d="M566.1 454.5L566.8 462.6M566.8 462.6l-5.0 1.3M469.4 338.2L473.1 345.5M473.1 345.5l-4.2 3.1"/><path fill="none" stroke="#005df6" stroke-width="1" d="M600.5 454.5L601.9 462.5M601.9 462.5l-4.9 1.8M480.8 379.4L482.5 387.4M482.5 387.4l-4.8 1.9M479.7 269.3L477.3 277.1M477.3 277.1l-5.2 -0.6M497.8 199.6L505.0 195.6M505.0 195.6l3.3 4.0"/><path fill="none" stroke="#0078fb" stroke-width="1" d="M613.2 454.5L616.6 461.9M616.6 461.9l-4.3 3.0M517.2 434.0L518.9 442.0M518.9 442.0l-4.8 2.0M527.7 420.4L528.8 428.5M528.8 428.5l-5.0 1.6M529.1 372.5L530.9 380.5M530.9 380.5l-4.8 2.0M491.9 234.5L489.5 242.4M489.5 242.4l-5.2 -0.7"/><path fill="none" stroke="#0024ec" stroke-width="1" d="M425.7 447.7L430.7 454.1M430.7 454.1l-3.5 3.8M456.2 352.0L459.2 359.6M459.2 359.6l-4.4 2.8M469.5 178.6L474.1 185.4M474.1 185.4l-3.7 3.6"/><path fill="none" stroke="#007dfc" stroke-width="1" d="M534.5 447.7L537.3 455.4M537.3 455.4l-4.5 2.6M538.7 107.9L543.0 100.9M543.0 100.9l4.8 1.9"/><path fill="none" stroke="#007efc" stroke-width="1" d="M547.0 447.7L549.0 455.6M549.0 455.6l-4.7 2.1"/><path fill="none" stroke="#0073fa" stroke-width="1" d="M560.3 447.7L563.6 455.2M563.6 455.2l-4.3 2.9M529.1 434.0L532.3 441.6M532.3 441.6l-4.4 2.8M493.6 372.5L493.4 380.7M493.4 380.7l-5.1 0.8M469.5 276.2L468.7 284.3M468.7 284.3l-5.2 0.4M486.3 129.2L494.4 130.8M494.4 130.8l-0.1 5.2"/><path fill="none" stroke="#0070f9" stroke-width="1" d="M570.3 447.7L572.5 455.6M572.5 455.6l-4.7 2.3M541.7 434.0L544.0 441.9M544.0 441.9l-4.7 2.3M553.8 365.7L555.0 373.8M555.0 373.8l-4.9 1.6M481.5 324.5L482.9 332.6M482.9 332.6l-4.9 1.7M503.6 206.6L500.1 199.2M500.1 199.2l4.2 -3.0"/><path fill="none" stroke="#0088fe" stroke-width="1" d="M583.4 447.7L585.8 455.5M585.8 455.5l-4.6 2.4M575.4 440.8L576.0 449.0M576.0 449.0l-5.0 1.3M563.0 434.0L565.9 441.7M565.9 441.7l-4.5 2.7M577.7 434.0L577.6 442.2M577.6 442.2l-5.1 0.8M540.3 427.2L542.1 435.2M542.1 435.2l-4.8 2.0M575.8 427.2L578.6 434.9M578.6 434.9l-4.5 2.6M538.8 420.4L540.8 428.4M540.8 428.4l-4.8 2.1M552.4 420.4L554.3 428.4M554.3 428.4l-4.8 2.1M540.1 413.6L541.5 421.6M541.5 421.6l-4.9 1.8M566.2 413.6L568.3 421.5M568.3 421.5l-4.7 2.2M575.4 413.6L575.5 421.8M575.5 421.8l-5.1 1.0M515.2 406.7L518.7 414.2M518.7 414.2l-4.3 3.0M542.1 406.7L543.4 414.8M543.4 414.8l-4.9 1.7M552.9 406.7L556.6 414.0M556.6 414.0l-4.1 3.2M577.6 406.7L577.8 414.9M577.8 414.9l-5.1 1.0M515.1 399.9L517.9 407.6M517.9 407.6l-4.5 2.6M542.3 399.9L544.0 407.9M544.0 407.9l-4.8 2.0M551.1 399.9L554.8 407.2M554.8 407.2l-4.1 3.1M563.0 399.9L564.3 408.0M564.3 408.0l-4.9 1.7M541.2 393.1L542.8 401.1M542.8 401.1l-4.8 1.9M551.6 393.1L554.5 400.7M554.5 400.7l-4.5 2.7M552.5 386.2L554.6 394.1M554.6 394.1l-4.7 2.2M552.5 379.4L552.0 387.6M552.0 387.6l-5.2 0.6M551.5 372.5L553.7 380.4M553.7 380.4l-4.7 2.3M505.1 358.8L508.5 366.3M508.5 366.3l-4.3 2.9M491.3 290.0L490.8 298.2M490.8 298.2l-5.2 0.6M491.1 283.1L488.8 291.0M488.8 291.0l-5.2 -0.6M479.3 276.2L478.6 284.3M478.6 284.3l-5.2 0.4M491.4 269.3L489.9 277.3M489.9 277.3l-5.2 -0.0M492.2 262.3L490.9 270.4M490.9 270.4l-5.2 0.1M493.8 248.4L489.7 255.5M489.7 255.5l-4.9 -1.8M480.3 241.5L476.0 248.4M476.0 248.4l-4.8 -1.9M491.9 220.6L488.7 228.2M488.7 228.2l-5.1 -1.1M492.8 206.6L494.5 214.6M494.5 214.6l-4.8 2.0M503.5 164.5L502.8 156.4M502.8 156.4l5.0 -1.3M509.5 129.2L511.8 121.4M511.8 121.4l5.2 0.6M492.3 122.2L493.5 114.0M493.5 114.0l5.2 -0.2M502.9 122.2L502.9 114.0M502.9 114.0l5.1 -1.0M551.9 122.2L556.3 115.2M556.3 115.2l4.8 2.0M532.9 115.1L536.7 107.8M536.7 107.8l4.9 1.6M547.5 115.1L552.1 108.3M552.1 108.3l4.8 2.1M492.7 107.9L494.6 100.0M494.6 100.0l5.2 0.3"/><path fill="none" stroke="#0096ff" stroke-width="1" d="M596.0 447.7L597.1 455.8M596.9 453.8l-2.8 0.9M588.3 440.8L592.1 448.1M591.1 446.3l-2.4 1.8M600.4 434.0L600.3 442.2M600.3 440.2l-3.0 0.5M587.0 427.2L586.7 435.4M586.8 433.4l-3.0 0.4M614.0 427.2L618.6 434.0M617.5 432.3l-2.2 2.1M576.8 420.4L579.2 428.2M578.6 426.3l-2.7 1.4M566.1 386.2L567.0 394.4M566.8 392.4l-2.9 0.8M576.7 386.2L579.9 393.8M579.1 392.0l-2.5 1.6M587.5 386.2L589.3 394.2M588.8 392.3l-2.8 1.1M601.3 386.2L600.0 394.3M600.3 392.4l-3.0 0.1M589.7 379.4L593.6 386.6M592.6 384.8l-2.3 1.9M518.1 358.8L519.6 366.9M519.2 364.9l-2.8 1.0M527.1 358.8L528.0 367.0M527.8 365.0l-2.9 0.8M542.0 358.8L542.8 367.0M542.6 365.0l-2.9 0.8M565.8 358.8L565.9 367.0M565.9 365.0l-2.9 0.6M575.9 358.8L578.4 366.7M577.8 364.7l-2.7 1.4M492.1 352.0L497.5 358.2M496.2 356.6l-1.9 2.3M588.2 352.0L593.3 358.4M592.1 356.8l-2.0 2.2M589.1 331.4L591.6 339.2M591.0 337.3l-2.7 1.4M599.8 310.7L600.8 318.8M600.5 316.9l-2.9 0.9M587.3 303.8L591.2 311.0M590.3 309.3l-2.4 1.9M515.5 283.1L516.7 291.2M516.4 289.2l-2.8 0.9M503.2 269.3L499.1 276.4M500.1 274.6l-2.8 -1.0M504.7 262.3L504.6 270.5M504.6 268.5l-3.0 0.5M515.6 255.4L511.2 262.3M512.2 260.6l-2.8 -1.1M504.8 248.4L500.3 255.3M501.4 253.6l-2.8 -1.2M505.5 241.5L505.4 249.7M505.4 247.7l-3.0 0.5M518.2 234.5L518.1 242.7M518.1 240.7l-3.0 0.5M503.4 227.6L499.6 234.9M500.6 233.1l-2.9 -0.9M505.4 220.6L502.2 228.2M503.0 226.3l-2.9 -0.6M516.0 220.6L515.8 228.8M515.9 226.8l-3.0 0.5M527.6 220.6L525.2 228.4M525.8 226.5l-3.0 -0.4M518.1 213.6L516.8 221.7M517.1 219.7l-3.0 0.0M517.0 206.6L509.8 202.8M511.5 203.8l0.9 -2.9M508.6 199.6L508.9 191.4M508.8 193.4l3.0 -0.4M514.8 192.6L515.8 184.5M515.6 186.5l3.0 -0.2"/><path fill="none" stroke="#009bff" stroke-width="1" d="M605.7 447.7L608.0 455.5M607.4 453.6l-2.7 1.3M590.0 324.5L595.2 330.8M593.9 329.3l-1.9 2.3M517.0 227.6L513.0 234.7M514.0 233.0l-2.8 -1.0M511.6 171.6L511.8 163.4M511.7 165.4l3.0 -0.5"/><path fill="none" stroke="#0098ff" stroke-width="1" d="M618.0 447.7L620.6 455.4M620.0 453.5l-2.6 1.4"/><path fill="none" stroke="#0026ec" stroke-width="1" d="M455.0 440.8L461.2 446.1M461.2 446.1l-2.6 4.5M409.1 427.2L413.4 434.2M413.4 434.2l-3.9 3.4M408.6 393.1L411.4 400.8M411.4 400.8l-4.5 2.6M457.0 386.2L459.1 394.2M459.1 394.2l-4.7 2.2M394.6 338.2L395.8 346.3M395.8 346.3l-4.9 1.7M455.2 290.0L453.6 298.1M453.6 298.1l-5.2 -0.1M451.1 157.5L456.8 163.5M456.8 163.5l-3.1 4.2M460.8 129.2L468.5 132.0M468.5 132.0l-0.9 5.1"/><path fill="none" stroke="#0075fa" stroke-width="1" d="M515.3 440.8L517.7 448.7M517.7 448.7l-4.6 2.4M479.3 310.7L480.9 318.7M480.9 318.7l-4.8 1.9"/><path fill="none" stroke="#005af5" stroke-width="1" d="M526.8 440.8L528.8 448.8M528.8 448.8l-4.7 2.1M540.4 386.2L541.2 394.4M541.2 394.4l-5.0 1.4M467.4 310.7L467.1 318.9M467.1 318.9l-5.1 0.7"/><path fill="none" stroke="#0071f9" stroke-width="1" d="M551.7 440.8L554.5 448.6M554.5 448.6l-4.5 2.6M502.9 393.1L503.6 401.2M503.6 401.2l-5.0 1.4M511.7 100.8L515.9 93.8M515.9 93.8l4.9 1.8"/><path fill="none" stroke="#00a3ff" stroke-width="1" d="M602.4 440.8L606.3 448.0M605.3 446.3l-2.3 1.9M575.3 365.7L576.6 373.8M576.3 371.8l-2.8 1.0M589.5 338.2L592.0 346.1M591.4 344.2l-2.7 1.4M515.4 303.8L522.6 307.7M520.9 306.8l-0.9 2.8M503.8 296.9L508.2 303.9M507.1 302.2l-2.2 2.0"/><path fill="none" stroke="#00baff" stroke-width="1" d="M612.6 440.8L614.1 448.9M613.7 447.0l-2.8 1.0M589.6 434.0L590.4 442.2M590.2 440.2l-2.9 0.8M600.9 420.4L600.6 428.6M600.7 426.6l-3.0 0.4M504.2 345.1L509.5 351.4M508.2 349.9l-1.9 2.3M529.9 262.3L528.8 270.4M529.1 268.5l-3.0 0.1"/><path fill="none" stroke="#00bcff" stroke-width="1" d="M612.0 434.0L611.8 442.2M611.8 440.2l-3.0 0.4M589.5 262.3L584.5 268.8M585.7 267.2l-2.6 -1.4M532.7 185.6L533.4 177.4M533.2 179.4l3.0 -0.3M527.1 136.3L528.7 128.3M528.3 130.2l3.0 0.1"/><path fill="none" stroke="#0046f2" stroke-width="1" d="M442.7 427.2L448.4 433.2M448.4 433.2l-3.1 4.2M397.0 372.5L397.4 380.7M397.4 380.7l-5.1 1.2M503.2 372.5L503.7 380.7M503.7 380.7l-5.1 1.2M469.6 324.5L473.3 331.8M473.3 331.8l-4.2 3.1M432.9 310.7L432.4 318.9M432.4 318.9l-5.2 0.6M443.0 248.4L440.4 256.2M440.4 256.2l-5.1 -0.7M456.2 192.6L456.6 200.8M456.6 200.8l-5.1 1.1M473.0 171.6L479.1 177.1M479.1 177.1l-2.8 4.4"/><path fill="none" stroke="#0034ef" stroke-width="1" d="M491.8 427.2L496.9 433.6M496.9 433.6l-3.4 3.9M455.6 338.2L459.1 345.7M459.1 345.7l-4.3 3.0"/><path fill="none" stroke="#0087fd" stroke-width="1" d="M528.7 427.2L530.5 435.2M530.5 435.2l-4.8 2.0M504.4 365.7L504.7 373.9M504.7 373.9l-5.1 1.1M480.7 338.2L483.6 345.9M483.6 345.9l-4.5 2.6"/><path fill="none" stroke="#00b6ff" stroke-width="1" d="M600.0 427.2L601.2 435.3M600.9 433.3l-2.8 1.0M550.9 345.1L556.7 350.9M555.3 349.5l-1.7 2.5M601.3 331.4L604.4 338.9M603.7 337.1l-2.5 1.6M528.5 234.5L527.7 242.7M527.9 240.7l-3.0 0.3"/><path fill="none" stroke="#006bf8" stroke-width="1" d="M504.7 420.4L507.1 428.3M507.1 428.3l-4.7 2.3M481.8 150.4L488.9 154.6M488.9 154.6l-1.8 4.9"/><path fill="none" stroke="#0084fd" stroke-width="1" d="M564.1 420.4L566.2 428.3M566.2 428.3l-4.7 2.2M504.9 136.3L504.5 128.1M504.5 128.1l5.1 -1.1"/><path fill="none" stroke="#00b2ff" stroke-width="1" d="M587.3 420.4L586.7 428.6M586.9 426.6l-3.0 0.3M599.9 406.7L605.0 413.2M603.7 411.6l-2.0 2.2M611.6 406.7L612.3 414.9M612.2 412.9l-2.9 0.8M577.2 372.5L575.9 380.6M576.2 378.7l-3.0 0.0M527.6 283.1L522.6 289.6M523.8 288.0l-2.7 -1.4M502.8 276.2L499.8 283.8M500.5 281.9l-2.9 -0.6M566.3 248.4L565.8 256.6M565.9 254.6l-3.0 0.3"/><path fill="none" stroke="#00bbff" stroke-width="1" d="M611.9 420.4L613.9 428.4M613.4 426.4l-2.7 1.2M517.7 352.0L523.9 357.3M522.4 356.0l-1.5 2.6M601.9 345.1L604.6 352.8M603.9 351.0l-2.6 1.5M492.7 303.8L497.4 310.6M496.3 308.9l-2.1 2.1M564.1 296.9L568.3 303.9M567.3 302.2l-2.3 2.0"/><path fill="none" stroke="#002ded" stroke-width="1" d="M454.5 413.6L459.0 420.4M459.0 420.4l-3.8 3.6M443.8 269.3L443.3 277.4M443.3 277.4l-5.2 0.6M450.6 129.2L458.5 131.6M458.5 131.6l-0.6 5.2"/><path fill="none" stroke="#001eeb" stroke-width="1" d="M468.4 413.6L472.6 420.6M472.6 420.6l-3.9 3.4M419.3 241.5L417.8 249.6M417.8 249.6l-5.2 -0.0M436.7 129.2L443.4 133.9M443.4 133.9l-2.2 4.7"/><path fill="none" stroke="#007cfb" stroke-width="1" d="M552.7 413.6L554.3 421.6M554.3 421.6l-4.8 1.9M468.1 269.3L468.5 277.4M468.5 277.4l-5.1 1.2M493.5 213.6L492.4 221.7M492.4 221.7l-5.2 0.2"/><path fill="none" stroke="#00c0ff" stroke-width="1" d="M589.8 413.6L593.9 420.7M592.9 418.9l-2.3 1.9M517.3 241.5L516.9 249.7M517.0 247.7l-3.0 0.4"/><path fill="none" stroke="#0099ff" stroke-width="1" d="M601.9 413.6L604.7 421.3M604.0 419.4l-2.6 1.5M575.0 379.4L576.1 387.5M575.8 385.5l-2.9 0.9M553.6 358.8L556.8 366.4M556.0 364.6l-2.5 1.6M503.3 303.8L510.5 307.8M508.7 306.8l-1.0 2.8"/><path fill="none" stroke="#00b8ff" stroke-width="1" d="M612.7 413.6L612.5 421.8M612.5 419.8l-3.0 0.4M602.3 399.9L607.2 406.4M606.0 404.8l-2.0 2.2M601.4 393.1L601.6 401.3M601.5 399.3l-2.9 0.6M589.4 372.5L593.7 379.5M592.6 377.8l-2.2 2.0M550.8 331.4L555.6 338.0M554.4 336.4l-2.1 2.2M493.9 317.6L498.6 324.3M497.5 322.7l-2.1 2.1M563.0 262.3L562.7 270.5M562.8 268.5l-3.0 0.4M551.8 234.5L549.2 242.3M549.8 240.4l-3.0 -0.4M521.2 129.2L521.2 121.0M521.2 123.0l3.0 -0.5"/><path fill="none" stroke="#0044f1" stroke-width="1" d="M455.6 406.7L456.7 414.9M456.7 414.9l-5.0 1.6M467.1 345.1L469.3 353.0M469.3 353.0l-4.7 2.2M468.3 150.4L474.4 155.9M474.4 155.9l-2.7 4.4M479.0 122.2L487.2 123.2M487.2 123.2l0.2 5.2M469.0 107.9L476.9 109.9M476.9 109.9l-0.3 5.2"/><path fill="none" stroke="#0061f7" stroke-width="1" d="M504.2 406.7L507.6 414.2M507.6 414.2l-4.3 3.0M469.0 227.6L467.2 235.5M467.2 235.5l-5.2 -0.3M479.8 213.6L475.4 220.6M475.4 220.6l-4.8 -2.0"/><path fill="none" stroke="#0065f7" stroke-width="1" d="M564.9 406.7L566.8 414.7M566.8 414.7l-4.8 2.1M516.9 386.2L519.0 394.2M519.0 394.2l-4.7 2.2M515.1 365.7L516.6 373.8M516.6 373.8l-4.9 1.8M479.2 296.9L478.1 305.0M478.1 305.0l-5.2 0.2M492.4 136.3L500.4 138.0M500.4 138.0l-0.2 5.2"/><path fill="none" stroke="#00a5ff" stroke-width="1" d="M587.1 406.7L586.5 414.9M586.7 412.9l-3.0 0.3M577.3 352.0L581.1 359.2M580.2 357.5l-2.4 1.8"/><path fill="none" stroke="#0064f7" stroke-width="1" d="M503.6 399.9L504.7 408.0M504.7 408.0l-4.9 1.6M456.2 324.5L456.9 332.7M456.9 332.7l-5.0 1.3M497.1 185.6L505.0 183.7M505.0 183.7l2.1 4.8"/><path fill="none" stroke="#006af8" stroke-width="1" d="M575.5 399.9L577.4 407.9M577.4 407.9l-4.8 2.1M480.5 331.4L483.6 339.0M483.6 339.0l-4.4 2.8M467.6 248.4L464.0 255.8M464.0 255.8l-5.0 -1.4"/><path fill="none" stroke="#00b5ff" stroke-width="1" d="M587.4 399.9L587.9 408.1M587.8 406.1l-2.9 0.7M517.0 310.7L524.8 313.3M522.9 312.7l-0.4 3.0M540.6 290.0L543.9 297.5M543.1 295.7l-2.5 1.7M588.4 276.2L584.6 283.4M585.5 281.7l-2.9 -0.9M529.3 269.3L525.3 276.4M526.3 274.6l-2.8 -1.0"/><path fill="none" stroke="#00b3ff" stroke-width="1" d="M613.8 399.9L612.6 408.0M612.9 406.0l-3.0 0.1M544.8 185.6L545.4 177.4M545.2 179.4l3.0 -0.3"/><path fill="none" stroke="#003ff0" stroke-width="1" d="M433.4 393.1L435.0 401.1M435.0 401.1l-4.9 1.9M455.3 269.3L453.9 277.3M453.9 277.3l-5.2 -0.0M456.4 213.6L455.2 221.7M455.2 221.7l-5.2 0.1"/><path fill="none" stroke="#0079fb" stroke-width="1" d="M490.9 393.1L492.6 401.1M492.6 401.1l-4.8 2.0M469.4 352.0L471.3 359.9M471.3 359.9l-4.8 2.1M466.9 283.1L467.1 291.3M467.1 291.3l-5.1 1.1M493.2 227.6L491.5 235.6M491.5 235.6l-5.2 -0.2M552.9 107.9L558.4 101.8M558.4 101.8l4.4 2.7"/><path fill="none" stroke="#0080fc" stroke-width="1" d="M526.8 393.1L527.6 401.2M527.6 401.2l-5.0 1.4"/><path fill="none" stroke="#00aeff" stroke-width="1" d="M578.0 393.1L579.6 401.1M579.2 399.2l-2.8 1.1M539.7 269.3L534.5 275.6M535.7 274.0l-2.6 -1.5M539.9 262.3L539.6 270.5M539.6 268.5l-3.0 0.4M528.0 241.5L522.5 247.6M523.8 246.1l-2.6 -1.6M515.8 150.4L515.0 142.3M515.2 144.3l2.9 -0.8M510.5 143.4L509.9 135.2M510.1 137.2l2.9 -0.7"/><path fill="none" stroke="#00a4ff" stroke-width="1" d="M587.4 393.1L591.2 400.3M590.3 398.6l-2.4 1.8M600.9 365.7L603.3 373.5M602.7 371.6l-2.7 1.4M504.8 255.4L502.9 263.4M503.4 261.4l-3.0 -0.2M529.5 255.4L523.9 261.4M525.3 259.9l-2.5 -1.6"/><path fill="none" stroke="#001aea" stroke-width="1" d="M406.6 386.2L407.6 394.4M407.6 394.4l-5.0 1.6"/><path fill="none" stroke="#0056f5" stroke-width="1" d="M421.5 386.2L423.0 394.3M423.0 394.3l-4.9 1.9M444.2 317.6L444.0 325.8M444.0 325.8l-5.1 0.8"/><path fill="none" stroke="#0058f5" stroke-width="1" d="M504.8 386.2L506.5 394.3M506.5 394.3l-4.8 1.9M493.5 358.8L496.7 366.4M496.7 366.4l-4.4 2.8M481.4 206.6L479.5 214.6M479.5 214.6l-5.2 -0.4"/><path fill="none" stroke="#0045f1" stroke-width="1" d="M445.2 379.4L447.7 387.2M447.7 387.2l-4.6 2.4"/><path fill="none" stroke="#0035ef" stroke-width="1" d="M469.9 379.4L472.1 387.3M472.1 387.3l-4.7 2.2M383.0 331.4L386.1 338.9M386.1 338.9l-4.4 2.8M468.3 317.6L470.8 325.4M470.8 325.4l-4.6 2.4"/><path fill="none" stroke="#005cf6" stroke-width="1" d="M493.2 379.4L493.3 387.6M493.3 387.6l-5.1 1.0M457.0 365.7L457.9 373.8M457.9 373.8l-5.0 1.5M456.8 303.8L455.7 311.9M455.7 311.9l-5.2 0.2M469.3 255.4L466.6 263.1M466.6 263.1l-5.1 -0.8M491.9 178.6L499.5 181.7M499.5 181.7l-1.1 5.1"/><path fill="none" stroke="#004df3" stroke-width="1" d="M528.3 379.4L529.4 387.5M529.4 387.5l-5.0 1.6M478.8 365.7L478.0 373.9M478.0 373.9l-5.2 0.4M409.1 352.0L411.8 359.7M411.8 359.7l-4.5 2.5M419.0 303.8L419.7 312.0M419.7 312.0l-5.0 1.3M432.3 290.0L432.9 298.2M432.9 298.2l-5.0 1.3M466.7 290.0L467.4 298.2M467.4 298.2l-5.0 1.3M445.5 234.5L445.0 242.7M445.0 242.7l-5.2 0.6M455.7 220.6L453.2 228.4M453.2 228.4l-5.2 -0.7M462.3 157.5L469.5 161.4M469.5 161.4l-1.6 4.9"/><path fill="none" stroke="#007afb" stroke-width="1" d="M565.2 379.4L566.4 387.5M566.4 387.5l-4.9 1.6M486.4 115.1L488.4 107.1M488.4 107.1l5.2 0.4"/><path fill="none" stroke="#00bdff" stroke-width="1" d="M599.7 379.4L599.0 387.6M599.2 385.6l-3.0 0.2M611.4 379.4L611.1 387.6M611.1 385.6l-3.0 0.4M553.2 317.6L559.2 323.2M557.7 321.9l-1.7 2.5M565.1 290.0L563.4 298.0M563.8 296.1l-3.0 -0.1M565.4 283.1L565.4 291.3M565.4 289.3l-2.9 0.5M529.7 213.6L524.7 220.1M525.9 218.5l-2.7 -1.4"/><path fill="none" stroke="#0068f8" stroke-width="1" d="M517.5 372.5L517.6 380.7M517.6 380.7l-5.1 1.0M479.0 283.1L476.6 290.9M476.6 290.9l-5.2 -0.6M494.0 255.4L490.0 262.6M490.0 262.6l-4.9 -1.7M479.4 234.5L477.8 242.6M477.8 242.6l-5.2 -0.1M497.5 129.2L497.7 121.0M497.7 121.0l5.1 -0.8M516.4 122.2L521.4 115.6M521.4 115.6l4.6 2.4"/><path fill="none" stroke="#0086fd" stroke-width="1" d="M541.7 372.5L540.9 380.7M540.9 380.7l-5.2 0.4M469.4 331.4L472.7 338.8M472.7 338.8l-4.3 2.9"/><path fill="none" stroke="#00bfff" stroke-width="1" d="M601.5 372.5L600.6 380.7M600.8 378.7l-3.0 0.2M590.3 358.8L589.1 366.9M589.4 365.0l-3.0 0.1M503.8 352.0L508.4 358.8M507.3 357.1l-2.2 2.1M527.6 317.6L532.5 324.2M531.3 322.6l-2.1 2.2M516.7 290.0L515.6 298.1M515.9 296.2l-3.0 0.1M541.6 248.4L537.3 255.4M538.4 253.7l-2.8 -1.1M533.7 157.5L534.0 149.3M533.9 151.3l3.0 -0.4"/><path fill="none" stroke="#0051f4" stroke-width="1" d="M539.3 365.7L541.1 373.7M541.1 373.7l-4.8 2.0M420.6 358.8L423.2 366.6M423.2 366.6l-4.6 2.4M467.2 303.8L467.8 312.0M467.8 312.0l-5.0 1.2M480.4 262.3L478.1 270.2M478.1 270.2l-5.2 -0.5M444.8 255.4L442.2 263.2M442.2 263.2l-5.1 -0.8M455.8 234.5L455.5 242.7M455.5 242.7l-5.1 0.7M473.0 185.6L476.9 192.8M476.9 192.8l-4.1 3.2M481.1 136.3L488.1 140.7M488.1 140.7l-2.0 4.8M509.1 115.1L514.5 108.9M514.5 108.9l4.4 2.7M523.5 115.1L529.8 109.8M529.8 109.8l4.0 3.4"/><path fill="none" stroke="#00abff" stroke-width="1" d="M563.3 365.7L561.9 373.8M562.3 371.8l-3.0 0.0M563.2 324.5L568.9 330.4M567.5 328.9l-1.8 2.4"/><path fill="none" stroke="#00a6ff" stroke-width="1" d="M587.3 365.7L591.1 373.0M590.2 371.2l-2.4 1.8M520.7 157.5L523.6 149.8M522.9 151.7l3.0 0.5"/><path fill="none" stroke="#00b4ff" stroke-width="1" d="M601.8 358.8L601.1 367.0M601.3 365.0l-3.0 0.3M600.3 324.5L600.3 332.7M600.3 330.7l-3.0 0.5M541.7 164.5L543.0 156.4M542.7 158.4l3.0 -0.0"/><path fill="none" stroke="#0020eb" stroke-width="1" d="M383.6 352.0L384.3 360.1M384.3 360.1l-5.0 1.3"/><path fill="none" stroke="#0083fd" stroke-width="1" d="M478.5 352.0L479.0 360.2M479.0 360.2l-5.0 1.2"/><path fill="none" stroke="#00aaff" stroke-width="1" d="M530.0 352.0L535.0 358.5M533.8 356.9l-2.0 2.2M493.7 296.9L496.7 304.6M496.0 302.7l-2.6 1.6M515.9 262.3L514.9 270.5M515.2 268.5l-3.0 0.1M515.3 178.6L513.1 170.7M513.7 172.6l2.7 -1.3"/><path fill="none" stroke="#00b1ff" stroke-width="1" d="M539.0 352.0L544.6 358.0M543.2 356.5l-1.8 2.4M504.6 290.0L507.2 297.8M506.6 295.9l-2.6 1.4M550.9 269.3L548.5 277.1M549.1 275.2l-3.0 -0.4M503.1 234.5L500.1 242.1M500.8 240.3l-2.9 -0.6"/><path fill="none" stroke="#00c2ff" stroke-width="1" d="M554.2 352.0L558.2 359.1M557.3 357.4l-2.3 1.9M565.1 352.0L569.0 359.2M568.0 357.4l-2.4 1.9M515.1 296.9L520.9 302.6M519.5 301.2l-1.7 2.5"/><path fill="none" stroke="#009aff" stroke-width="1" d="M602.0 352.0L603.1 360.1M602.8 358.1l-2.8 0.9M516.4 136.3L518.4 128.4M517.9 130.3l3.0 0.2M558.2 129.2L563.3 122.8M562.0 124.4l2.6 1.4"/><path fill="none" stroke="#00c3ff" stroke-width="1" d="M491.6 345.1L495.6 352.3M494.6 350.5l-2.3 1.9M589.3 296.9L591.4 304.8M590.9 302.9l-2.7 1.3M545.5 199.6L547.9 191.8M547.3 193.7l3.0 0.4"/><path fill="none" stroke="#00d7ff" stroke-width="1" d="M517.3 345.1L524.1 349.7M522.4 348.6l-1.2 2.7M565.2 164.5L566.7 156.5M566.3 158.5l3.0 0.0"/><path fill="none" stroke="#00caff" stroke-width="1" d="M530.0 345.1L537.0 349.2M535.3 348.2l-1.0 2.8M553.7 338.2L561.5 340.7M559.6 340.1l-0.4 3.0"/><path fill="none" stroke="#00d5ff" stroke-width="1" d="M541.0 345.1L545.6 351.9M544.5 350.2l-2.1 2.1M574.9 213.6L575.6 221.8M575.4 219.8l-2.9 0.8"/><path fill="none" stroke="#00a7ff" stroke-width="1" d="M564.1 345.1L569.8 351.0M568.4 349.5l-1.8 2.4M505.1 331.4L508.8 338.7M507.9 336.9l-2.4 1.8M529.5 276.2L528.0 284.2M528.4 282.3l-3.0 -0.0"/><path fill="none" stroke="#00dcff" stroke-width="1" d="M575.7 345.1L579.5 352.4M578.6 350.6l-2.4 1.8M541.6 338.2L546.1 345.1M545.0 343.4l-2.2 2.1M576.4 338.2L579.7 345.7M578.9 343.9l-2.5 1.7M553.1 324.5L559.8 329.3M558.1 328.1l-1.3 2.7M578.1 290.0L577.0 298.1M577.2 296.1l-3.0 0.1"/><path fill="none" stroke="#009eff" stroke-width="1" d="M589.6 345.1L592.0 352.9M591.5 351.0l-2.7 1.4M590.4 317.6L591.5 325.7M591.2 323.7l-2.9 0.9M528.2 150.4L527.1 142.3M527.3 144.3l2.9 -0.9"/><path fill="none" stroke="#00b9ff" stroke-width="1" d="M490.7 338.2L496.2 344.3M494.9 342.8l-1.8 2.4M491.9 310.7L498.0 316.2M496.5 314.8l-1.6 2.6M553.2 227.6L552.2 235.7M552.4 233.7l-3.0 0.2M523.7 199.6L522.5 191.5M522.8 193.5l2.9 -0.9M541.7 178.6L546.5 172.0M545.3 173.6l2.7 1.3M530.2 164.5L531.5 156.5M531.2 158.4l3.0 -0.0"/><path fill="none" stroke="#00ddff" stroke-width="1" d="M505.5 338.2L510.1 345.0M508.9 343.4l-2.2 2.1M577.3 317.6L584.5 321.5M582.8 320.6l-1.0 2.8"/><path fill="none" stroke="#000000" stroke-width="1" d="M515.0 338.2L522.9 340.3M521.0 339.8l-0.2 3.0M516.2 331.4L522.7 336.3M521.1 335.1l-1.4 2.7M516.6 324.5L524.8 324.3M522.8 324.3l0.6 2.9M515.4 317.6L523.6 317.4M521.6 317.5l0.6 2.9M360.7 283.1L353.9 287.7M353.9 287.7l-3.6 -3.7M355.6 286.6l-3.6 -3.7M357.2 285.4l-2.1 -2.2M360.8 276.2L354.4 281.3M354.4 281.3l-3.9 -3.5M356.0 280.0l-3.9 -3.5M357.6 278.8l-2.2 -2.0M372.9 276.2L367.5 282.3M367.5 282.3l-4.4 -2.7M368.8 280.8l-4.4 -2.7M370.1 279.3l-2.5 -1.6M554.0 276.2L551.2 283.9M551.2 283.9l-5.1 -0.9M361.4 269.3L354.9 274.2M354.9 274.2l-3.8 -3.5M356.5 273.0l-3.8 -3.5M358.1 271.8l-2.2 -2.0M370.7 269.3L364.2 274.3M364.2 274.3l-3.9 -3.5M365.8 273.1l-3.9 -3.5M367.4 271.9l-2.2 -2.0M563.1 269.3L561.0 277.2M561.0 277.2l-5.2 -0.4M360.6 262.3L353.8 266.9M353.8 266.9l-3.6 -3.7M355.4 265.8l-3.6 -3.7M357.1 264.7l-2.1 -2.2M371.4 262.3L365.5 268.0M365.5 268.0l-4.2 -3.1M367.0 266.6l-4.2 -3.1M368.4 265.2l-2.4 -1.8M358.6 255.4L352.2 260.5M352.2 260.5l-3.9 -3.4M353.8 259.3l-3.9 -3.4M355.3 258.0l-2.3 -2.0M370.2 255.4L365.8 262.3M365.8 262.3l-4.8 -2.0M366.8 260.6l-4.8 -2.0M367.9 258.9l-2.8 -1.2M358.5 248.4L351.5 252.8M351.5 252.8l-3.5 -3.8M353.2 251.8l-3.5 -3.8M354.9 250.7l-2.0 -2.2M371.9 248.4L365.8 253.9M365.8 253.9l-4.1 -3.2M367.3 252.5l-4.1 -3.2M368.8 251.2l-2.3 -1.9M358.2 241.5L353.2 248.0M353.2 248.0l-4.6 -2.4M354.4 246.4l-4.6 -2.4M355.6 244.8l-2.7 -1.4M371.8 241.5L365.6 246.8M365.6 246.8l-4.0 -3.3M367.1 245.5l-4.0 -3.3M368.6 244.2l-2.3 -1.9M553.1 241.5L550.6 249.3M551.2 247.4l-3.0 -0.4M349.3 234.5L344.0 240.8M344.0 240.8l-4.5 -2.6M345.3 239.3l-4.5 -2.6M346.6 237.7l-2.6 -1.5M359.1 234.5L353.5 240.5M353.5 240.5l-4.4 -2.8M354.9 239.1l-4.4 -2.8M356.2 237.6l-2.5 -1.6M370.6 234.5L364.0 239.3M364.0 239.3l-3.7 -3.6M365.6 238.2l-3.7 -3.6M367.2 237.0l-2.2 -2.1M563.3 234.5L560.0 242.0M560.8 240.2l-2.9 -0.7M349.4 227.6L343.4 233.2M343.4 233.2l-4.2 -3.1M344.9 231.8l-4.2 -3.1M346.3 230.4l-2.4 -1.8M358.7 227.6L353.3 233.8M353.3 233.8l-4.5 -2.7M354.6 232.3l-4.5 -2.7M355.9 230.7l-2.6 -1.5M371.3 227.6L366.3 234.0M366.3 234.0l-4.6 -2.4M367.5 232.5l-4.6 -2.4M368.8 230.9l-2.7 -1.4M564.0 227.6L560.4 234.9M561.3 233.1l-2.9 -0.8M360.1 220.6L353.5 225.4M353.5 225.4l-3.7 -3.6M355.1 224.2l-3.7 -3.6M356.7 223.0l-2.1 -2.1M373.3 220.6L367.3 226.2M367.3 226.2l-4.2 -3.1M368.7 224.8l-4.2 -3.1M370.2 223.5l-2.4 -1.8M551.5 220.6L552.2 228.8M552.0 226.8l-2.9 0.8M564.1 220.6L563.4 228.8M563.6 226.8l-3.0 0.3M361.4 213.6L355.6 219.4M355.6 219.4l-4.3 -3.0M357.0 218.0l-4.3 -3.0M358.4 216.6l-2.5 -1.7M371.7 213.6L365.5 219.0M365.5 219.0l-4.1 -3.3M367.0 217.7l-4.1 -3.3M368.5 216.4l-2.3 -1.9M565.9 213.6L564.9 221.7M565.1 219.8l-3.0 0.1M359.8 206.6L353.4 211.7M353.4 211.7l-3.9 -3.5M354.9 210.5l-3.9 -3.5M356.5 209.2l-2.2 -2.0M372.7 206.6L367.7 213.1M367.7 213.1l-4.6 -2.4M368.9 211.5l-4.6 -2.4M370.1 210.0l-2.7 -1.4M431.5 206.6L430.9 214.8M430.9 214.8l-5.2 0.5M551.3 206.6L549.9 214.7M550.3 212.7l-3.0 0.0M563.3 206.6L563.3 214.8M563.3 212.8l-3.0 0.5M364.4 199.6L359.0 205.9M359.0 205.9l-4.5 -2.6M360.3 204.3l-4.5 -2.6M361.6 202.8l-2.6 -1.5M437.8 199.6L436.5 207.7M436.5 207.7l-5.2 0.1M559.1 199.6L558.2 207.8M558.4 205.8l-3.0 0.2M430.7 192.6L430.6 200.8M430.6 200.8l-5.1 0.8M443.1 192.6L442.8 200.8M442.8 200.8l-5.2 0.7M439.4 185.6L438.1 193.7M438.1 193.7l-5.2 0.1M442.6 178.6L441.2 186.7M441.2 186.7l-5.2 0.0M553.8 178.6L555.7 186.6M555.2 184.6l-2.8 1.2M559.7 171.6L556.1 179.0M557.0 177.2l-2.9 -0.8M551.2 164.5L547.1 171.6M548.1 169.9l-2.8 -1.0M554.0 150.4L555.2 158.6M554.9 156.6l-2.8 0.9M546.8 100.8L552.0 94.5M552.0 94.5l4.6 2.5M541.2 93.7L548.2 89.4M548.2 89.4l3.4 3.9M553.2 93.7L558.9 87.8M558.9 87.8l4.3 2.9M547.0 86.6L553.0 80.9M553.0 80.9l4.2 3.1"/><path fill="none" stroke="#00c8ff" stroke-width="1" d="M527.8 338.2L535.2 341.9M533.4 341.0l-0.9 2.9"/><path fill="none" stroke="#00dfff" stroke-width="1" d="M565.6 338.2L570.0 345.2M568.9 343.5l-2.2 2.0"/><path fill="none" stroke="#009fff" stroke-width="1" d="M600.8 338.2L604.0 345.8M603.2 343.9l-2.5 1.6"/><path fill="none" stroke="#0055f4" stroke-width="1" d="M430.6 331.4L433.8 338.9M433.8 338.9l-4.4 2.8M467.2 296.9L466.0 305.0M466.0 305.0l-5.2 0.1M532.7 100.8L537.7 94.3M537.7 94.3l4.6 2.4"/><path fill="none" stroke="#00d6ff" stroke-width="1" d="M491.4 331.4L495.1 338.7M494.2 336.9l-2.4 1.8M505.4 324.5L513.2 327.0M511.3 326.4l-0.4 3.0M571.0 199.6L569.8 191.5M570.1 193.5l2.9 -0.9"/><path fill="none" stroke="#00e1ff" stroke-width="1" d="M529.7 331.4L537.6 333.6M535.6 333.1l-0.3 3.0M564.5 331.4L567.3 339.0M566.6 337.2l-2.6 1.5M576.1 324.5L580.8 331.2M579.6 329.6l-2.1 2.1M575.4 241.5L572.1 249.0M572.9 247.2l-2.9 -0.7"/><path fill="none" stroke="#00c5ff" stroke-width="1" d="M539.5 331.4L546.3 336.0M544.6 334.9l-1.2 2.7M575.5 296.9L580.3 303.5M579.1 301.9l-2.1 2.2M539.1 206.6L539.4 198.4M539.4 200.4l3.0 -0.4M529.2 192.6L530.6 184.6M530.3 186.5l3.0 -0.0"/><path fill="none" stroke="#00dbff" stroke-width="1" d="M576.8 331.4L582.0 337.7M580.7 336.1l-1.9 2.3M527.6 296.9L533.9 302.2M532.3 300.9l-1.5 2.6"/><path fill="none" stroke="#00a9ff" stroke-width="1" d="M492.3 324.5L497.7 330.7M496.4 329.2l-1.9 2.3"/><path fill="none" stroke="#00e7ff" stroke-width="1" d="M529.3 324.5L534.8 330.6M533.4 329.1l-1.9 2.3M553.2 262.3L552.6 270.5M552.7 268.5l-3.0 0.3"/><path fill="none" stroke="#00ccff" stroke-width="1" d="M541.6 324.5L549.3 327.3M547.5 326.6l-0.5 3.0M563.7 303.8L569.6 309.6M568.1 308.2l-1.7 2.5M565.9 255.4L564.6 263.5M564.9 261.5l-3.0 0.1M547.5 129.2L549.5 121.3M549.0 123.2l3.0 0.3"/><path fill="none" stroke="#009cff" stroke-width="1" d="M505.0 317.6L513.0 319.3M511.1 318.9l-0.1 3.0"/><path fill="none" stroke="#00ceff" stroke-width="1" d="M539.3 317.6L545.4 323.1M544.0 321.7l-1.6 2.5M563.6 310.7L571.3 313.6M569.4 312.9l-0.5 3.0M575.4 269.3L571.8 276.6M572.6 274.8l-2.9 -0.8M551.6 248.4L546.8 255.1M548.0 253.5l-2.7 -1.3M552.2 136.3L553.2 128.2M553.0 130.2l3.0 -0.1"/><path fill="none" stroke="#00d9ff" stroke-width="1" d="M563.7 317.6L571.5 320.1M569.6 319.5l-0.4 3.0M577.4 303.8L583.8 308.9M582.3 307.7l-1.4 2.6"/><path fill="none" stroke="#00a0ff" stroke-width="1" d="M601.3 317.6L601.6 325.8M601.6 323.8l-2.9 0.6M511.6 185.6L514.1 177.8M513.5 179.7l3.0 0.4"/><path fill="none" stroke="#00a2ff" stroke-width="1" d="M504.2 310.7L512.4 311.9M510.4 311.6l0.1 3.0M504.1 283.1L505.4 291.2M505.1 289.2l-2.8 1.0M520.9 143.4L524.2 135.9M523.4 137.7l2.9 0.7"/><path fill="none" stroke="#00d0ff" stroke-width="1" d="M526.8 310.7L534.8 312.4M532.8 312.0l-0.1 3.0M541.2 255.4L536.9 262.4M537.9 260.7l-2.8 -1.1M528.2 248.4L523.0 254.7M524.3 253.2l-2.6 -1.5"/><path fill="none" stroke="#00beff" stroke-width="1" d="M540.4 310.7L548.4 312.4M546.4 312.0l-0.1 3.0M552.3 213.6L548.9 221.1M549.7 219.2l-2.9 -0.8"/><path fill="none" stroke="#00cdff" stroke-width="1" d="M551.2 310.7L559.1 312.7M557.2 312.2l-0.2 3.0M541.7 150.4L540.5 142.3M540.8 144.3l2.8 -0.9"/><path fill="none" stroke="#00d4ff" stroke-width="1" d="M575.1 310.7L581.5 315.8M579.9 314.6l-1.4 2.6M589.8 283.1L588.9 291.2M589.1 289.3l-3.0 0.2M590.5 269.3L586.2 276.3M587.3 274.6l-2.8 -1.1M576.6 227.6L576.0 235.7M576.2 233.7l-3.0 0.3"/><path fill="none" stroke="#00a1ff" stroke-width="1" d="M590.3 310.7L594.4 317.8M593.4 316.0l-2.3 2.0"/><path fill="none" stroke="#00d2ff" stroke-width="1" d="M528.1 303.8L534.2 309.3M532.7 308.0l-1.6 2.5M533.2 171.6L534.0 163.4M533.8 165.4l3.0 -0.2M558.4 157.5L562.1 150.2M561.2 152.0l2.9 0.9"/><path fill="none" stroke="#00d1ff" stroke-width="1" d="M538.8 303.8L546.6 306.4M544.7 305.8l-0.4 3.0M524.0 171.6L524.9 163.4M524.7 165.4l3.0 -0.2"/><path fill="none" stroke="#00eaff" stroke-width="1" d="M553.7 303.8L560.4 308.6M558.8 307.5l-1.3 2.7"/><path fill="none" stroke="#00cbff" stroke-width="1" d="M540.2 296.9L547.3 300.9M545.6 299.9l-1.0 2.8M577.8 276.2L575.1 283.9M575.8 282.0l-3.0 -0.5M577.4 220.6L572.3 227.0M573.5 225.5l-2.6 -1.4"/><path fill="none" stroke="#00afff" stroke-width="1" d="M552.8 296.9L558.5 302.8M557.1 301.4l-1.8 2.4M516.9 248.4L512.0 255.0M513.2 253.4l-2.7 -1.4M538.8 227.6L535.9 235.2M536.6 233.3l-2.9 -0.6M556.8 185.6L556.4 177.4M556.5 179.4l2.9 -0.7"/><path fill="none" stroke="#0038ef" stroke-width="1" d="M371.7 290.0L368.0 297.3M368.0 297.3l-5.0 -1.5M480.2 220.6L479.0 228.7M479.0 228.7l-5.2 0.2M463.0 143.4L469.7 148.1M469.7 148.1l-2.2 4.7M451.2 115.1L459.3 116.4M459.3 116.4l0.1 5.2"/><path fill="none" stroke="#0053f4" stroke-width="1" d="M481.0 290.0L479.8 298.1M479.8 298.1l-5.2 0.1M443.7 283.1L440.7 290.7M440.7 290.7l-5.1 -1.0M454.8 248.4L453.0 256.4M453.0 256.4l-5.2 -0.2"/><path fill="none" stroke="#00c9ff" stroke-width="1" d="M527.5 290.0L527.0 298.2M527.1 296.2l-3.0 0.3M577.3 248.4L575.1 256.3M575.7 254.4l-3.0 -0.3M541.1 234.5L536.4 241.3M537.6 239.6l-2.7 -1.3M539.4 192.6L539.3 184.4M539.3 186.4l3.0 -0.5"/><path fill="none" stroke="#00daff" stroke-width="1" d="M553.4 290.0L554.4 298.1M554.2 296.2l-2.9 0.9M564.1 241.5L563.8 249.7M563.9 247.7l-3.0 0.4M564.2 178.6L566.4 170.7M565.9 172.6l3.0 0.3"/><path fill="none" stroke="#00d3ff" stroke-width="1" d="M589.3 290.0L589.9 298.2M589.8 296.2l-2.9 0.8"/><path fill="none" stroke="#00c6ff" stroke-width="1" d="M542.0 283.1L536.9 289.6M538.2 288.0l-2.7 -1.4M559.4 143.4L557.5 135.4M558.0 137.4l2.8 -1.2"/><path fill="none" stroke="#00d8ff" stroke-width="1" d="M552.9 283.1L550.5 290.9M551.1 289.0l-3.0 -0.4M552.9 192.6L552.7 184.4M552.8 186.4l2.9 -0.6"/><path fill="none" stroke="#00b0ff" stroke-width="1" d="M575.5 283.1L575.4 291.3M575.4 289.3l-3.0 0.5"/><path fill="none" stroke="#001eea" stroke-width="1" d="M432.7 276.2L432.9 284.4M432.9 284.4l-5.1 1.1"/><path fill="none" stroke="#009dff" stroke-width="1" d="M515.3 276.2L514.5 284.3M514.7 282.3l-3.0 0.2M534.2 143.4L539.1 136.8M537.9 138.4l2.7 1.4"/><path fill="none" stroke="#00acff" stroke-width="1" d="M541.0 276.2L538.5 284.0M539.1 282.1l-3.0 -0.4M504.8 213.6L499.4 219.8M500.7 218.3l-2.6 -1.5M533.8 199.6L536.6 192.0M535.9 193.8l2.9 0.6"/><path fill="none" stroke="#00e3ff" stroke-width="1" d="M564.9 276.2L561.6 283.7M562.4 281.9l-2.9 -0.7M566.3 136.3L564.5 128.3M564.9 130.3l2.8 -1.2"/><path fill="none" stroke="#0097ff" stroke-width="1" d="M515.3 269.3L512.4 276.9M513.1 275.0l-2.9 -0.6M529.1 206.6L527.4 198.6M527.8 200.6l2.8 -1.1"/><path fill="none" stroke="#fbd320" stroke-width="1" d="M384.4 262.3L378.0 267.4M378.0 267.4l-3.9 -3.4M379.6 266.2l-3.9 -3.4M390.0 157.5L394.4 150.6M394.4 150.6l4.8 2.0M393.4 152.3l4.8 2.0M341.7 72.3L348.7 68.0M348.7 68.0l3.4 3.9M347.0 69.1l3.4 3.9M343.4 57.9L350.2 53.3M350.2 53.3l3.6 3.7M348.6 54.4l3.6 3.7"/><path fill="none" stroke="#fade25" stroke-width="1" d="M394.6 262.3L388.5 267.7M388.5 267.7l-4.1 -3.2M390.0 266.4l-4.1 -3.2M401.0 57.9L408.9 55.6M408.9 55.6l2.3 4.7M407.0 56.2l2.3 4.7M443.3 50.7L451.4 49.4M451.4 49.4l1.7 4.9M449.4 49.7l1.7 4.9M481.9 50.7L489.9 48.9M489.9 48.9l2.0 4.8M488.0 49.3l2.0 4.8M310.7 36.3L318.7 34.4M318.7 34.4l2.1 4.8M316.7 34.9l2.1 4.8M432.6 36.3L440.0 32.8M440.0 32.8l3.0 4.2M438.2 33.6l3.0 4.2"/><path fill="none" stroke="#00e6ff" stroke-width="1" d="M575.7 262.3L574.5 270.4M574.8 268.5l-3.0 0.1"/><path fill="none" stroke="#fbc519" stroke-width="1" d="M383.6 255.4L378.2 261.5M378.2 261.5l-4.4 -2.7M379.5 260.0l-4.4 -2.7M341.9 171.6L349.1 167.7M349.1 167.7l3.2 4.1M347.3 168.7l3.2 4.1M348.0 136.3L354.3 131.1M354.3 131.1l4.0 3.4M352.7 132.4l4.0 3.4"/><path fill="none" stroke="#fbc61a" stroke-width="1" d="M395.7 255.4L390.2 261.4M390.2 261.4l-4.4 -2.8M391.5 260.0l-4.4 -2.8M384.4 164.5L388.9 157.7M388.9 157.7l4.8 2.0M387.8 159.3l4.8 2.0M540.6 79.4L547.8 75.5M547.8 75.5l3.2 4.1M546.1 76.5l3.2 4.1"/><path fill="none" stroke="#00c4ff" stroke-width="1" d="M551.7 255.4L551.2 263.6M551.3 261.6l-3.0 0.4M527.6 227.6L525.8 235.5M526.2 233.6l-3.0 -0.2"/><path fill="none" stroke="#00e5ff" stroke-width="1" d="M578.2 255.4L572.8 261.6M574.1 260.1l-2.6 -1.5M565.1 192.6L568.5 185.2M567.7 187.0l2.9 0.7"/><path fill="none" stroke="#fbc71a" stroke-width="1" d="M383.4 248.4L377.3 253.9M377.3 253.9l-4.1 -3.2M378.8 252.6l-4.1 -3.2M341.6 129.2L348.8 125.4M348.8 125.4l3.2 4.1M347.0 126.3l3.2 4.1M358.8 122.2L365.9 117.9M365.9 117.9l3.4 3.9M364.1 119.0l3.4 3.9"/><path fill="none" stroke="#006d00" stroke-width="1" d="M394.2 248.4L390.2 255.6M390.2 255.6l-4.9 -1.7M391.2 253.9l-2.8 -1.0M346.7 206.6L352.7 201.1M352.7 201.1l4.1 3.2M351.3 202.4l2.4 1.8M402.0 100.8L410.2 101.6M410.2 101.6l0.4 5.2M408.2 101.4l0.2 3.0"/><path fill="none" stroke="#e53e04" stroke-width="1" d="M384.5 241.5L378.0 246.4M378.0 246.4l-3.8 -3.5M379.6 245.2l-3.8 -3.5M381.2 244.0l-2.2 -2.0"/><path fill="none" stroke="#008f00" stroke-width="1" d="M396.5 241.5L392.8 248.8M392.8 248.8l-5.0 -1.5M393.7 247.0l-2.9 -0.9M472.5 29.1L480.7 28.2M480.7 28.2l1.4 5.0M478.7 28.4l0.8 2.9"/><path fill="none" stroke="#0063f7" stroke-width="1" d="M469.8 241.5L466.3 248.9M466.3 248.9l-5.0 -1.3M353.3 185.6L359.3 180.0M359.3 180.0l4.2 3.1M538.9 122.2L541.8 114.5M541.8 114.5l5.1 1.0M496.8 115.1L494.7 107.1M494.7 107.1l4.7 -2.2"/><path fill="none" stroke="#0076fa" stroke-width="1" d="M492.0 241.5L490.7 249.6M490.7 249.6l-5.2 0.1M516.4 107.9L520.9 101.2M520.9 101.2l4.7 2.1"/><path fill="none" stroke="#00adff" stroke-width="1" d="M542.3 241.5L538.7 248.9M539.6 247.1l-2.9 -0.8M509.4 157.5L508.9 149.3M509.0 151.3l2.9 -0.7"/><path fill="none" stroke="#f3660f" stroke-width="1" d="M384.4 234.5L378.8 240.5M378.8 240.5l-4.3 -2.9M380.1 239.0l-4.3 -2.9M381.5 237.6l-2.5 -1.6"/><path fill="none" stroke="#fbca1c" stroke-width="1" d="M394.3 234.5L390.0 241.5M390.0 241.5l-4.8 -1.9M391.0 239.8l-4.8 -1.9M384.5 213.6L383.6 205.5M383.6 205.5l5.0 -1.5M383.8 207.5l5.0 -1.5M396.2 192.6L394.6 184.6M394.6 184.6l4.8 -1.9M395.0 186.6l4.8 -1.9M340.2 100.8L346.1 95.1M346.1 95.1l4.2 3.1M344.7 96.5l4.2 3.1"/><path fill="none" stroke="#002ced" stroke-width="1" d="M468.9 234.5L467.4 242.6M467.4 242.6l-5.2 -0.1M449.0 199.6L448.6 207.8M448.6 207.8l-5.2 0.6M467.3 79.4L475.4 78.7M475.4 78.7l1.3 5.0"/><path fill="none" stroke="#00c7ff" stroke-width="1" d="M577.4 234.5L572.2 240.9M573.4 239.3l-2.6 -1.5M547.2 171.6L546.8 163.4M546.9 165.4l2.9 -0.7M517.4 164.5L518.7 156.5M518.4 158.4l3.0 -0.0M540.3 136.3L541.5 128.2M541.2 130.2l3.0 -0.1"/><path fill="none" stroke="#f77212" stroke-width="1" d="M383.0 227.6L377.1 233.2M377.1 233.2l-4.2 -3.1M378.6 231.8l-4.2 -3.1M380.0 230.5l-2.4 -1.8M372.0 192.6L372.5 184.4M372.5 184.4l5.2 -0.6M372.4 186.4l5.2 -0.6M372.3 188.4l3.0 -0.4"/><path fill="none" stroke="#fbcf1e" stroke-width="1" d="M395.6 227.6L393.5 235.5M393.5 235.5l-5.2 -0.4M394.0 233.6l-5.2 -0.4M376.6 115.1L383.0 109.9M383.0 109.9l3.9 3.4M381.4 111.2l3.9 3.4M334.1 107.9L341.5 104.4M341.5 104.4l3.0 4.2M339.7 105.2l3.0 4.2"/><path fill="none" stroke="#fbcb1c" stroke-width="1" d="M383.2 220.6L379.6 213.2M379.6 213.2l4.2 -3.0M380.5 215.0l4.2 -3.0M340.4 143.4L345.9 137.3M345.9 137.3l4.4 2.7M344.5 138.8l4.4 2.7M328.1 129.2L334.7 124.5M334.7 124.5l3.7 3.6M333.1 125.6l3.7 3.6M349.0 79.4L355.3 74.1M355.3 74.1l4.0 3.3M353.8 75.4l4.0 3.3"/><path fill="none" stroke="#fbd01f" stroke-width="1" d="M396.4 220.6L392.5 227.8M392.5 227.8l-4.9 -1.6M393.5 226.1l-4.9 -1.6M348.9 122.2L355.3 117.0M355.3 117.0l3.9 3.4M353.7 118.3l3.9 3.4M377.8 43.5L385.8 41.7M385.8 41.7l2.0 4.8M383.9 42.2l2.0 4.8M412.4 43.5L420.5 41.9M420.5 41.9l1.9 4.8M418.5 42.3l1.9 4.8"/><path fill="none" stroke="#00e4ff" stroke-width="1" d="M542.3 220.6L539.7 228.4M540.3 226.5l-3.0 -0.4"/><path fill="none" stroke="#fcc419" stroke-width="1" d="M394.6 213.6L391.9 205.9M391.9 205.9l4.5 -2.5M392.5 207.8l4.5 -2.5M372.4 150.4L378.5 144.9M378.5 144.9l4.1 3.2M377.0 146.3l4.1 3.2"/><path fill="none" stroke="#00bb00" stroke-width="1" d="M418.7 213.6L414.2 220.5M414.2 220.5l-4.8 -2.0M415.3 218.8l-2.8 -1.2"/><path fill="none" stroke="#00e2ff" stroke-width="1" d="M540.6 213.6L535.2 219.8M536.5 218.3l-2.6 -1.5M548.2 143.4L551.5 135.9M550.7 137.7l2.9 0.7"/><path fill="none" stroke="#f1600d" stroke-width="1" d="M383.3 206.6L382.6 198.5M382.6 198.5l5.0 -1.4M382.7 200.5l5.0 -1.4M382.9 202.4l2.9 -0.8"/><path fill="none" stroke="#fbc81b" stroke-width="1" d="M395.6 206.6L392.8 198.9M392.8 198.9l4.5 -2.6M393.5 200.8l4.5 -2.6M359.6 178.6L364.9 172.3M364.9 172.3l4.5 2.6M363.6 173.9l4.5 2.6"/><path fill="none" stroke="#00d200" stroke-width="1" d="M444.6 206.6L443.9 214.8M443.9 214.8l-5.2 0.4M444.0 212.8l-3.0 0.3"/><path fill="none" stroke="#e53f04" stroke-width="1" d="M376.4 199.6L376.6 191.4M376.6 191.4l5.1 -0.8M376.6 193.4l5.1 -0.8M376.5 195.4l3.0 -0.4"/><path fill="none" stroke="#fbd220" stroke-width="1" d="M391.7 199.6L389.8 191.6M389.8 191.6l4.8 -2.0M390.3 193.6l4.8 -2.0M438.2 43.5L446.3 42.9M446.3 42.9l1.3 5.0M444.3 43.0l1.3 5.0"/><path fill="none" stroke="#fae026" stroke-width="1" d="M402.8 199.6L404.7 191.6M404.7 191.6l5.2 0.3M404.2 193.6l5.2 0.3M397.4 136.3L403.7 131.1M403.7 131.1l4.0 3.3M402.2 132.3l4.0 3.3M389.3 129.2L395.6 123.9M395.6 123.9l4.0 3.3M394.0 125.2l4.0 3.3M391.4 100.8L398.3 96.4M398.3 96.4l3.6 3.8M396.6 97.4l3.6 3.8M311.7 65.1L319.4 62.4M319.4 62.4l2.5 4.5M317.5 63.1l2.5 4.5M347.1 50.7L354.5 47.1M354.5 47.1l3.0 4.2M352.7 48.0l3.0 4.2M340.5 29.1L348.6 27.4M348.6 27.4l2.0 4.8M346.6 27.8l2.0 4.8"/><path fill="none" stroke="#005bf6" stroke-width="1" d="M346.4 192.6L352.5 187.2M352.5 187.2l4.1 3.2"/><path fill="none" stroke="#fcc017" stroke-width="1" d="M383.6 192.6L383.6 184.4M383.6 184.4l5.1 -0.9M383.6 186.4l5.1 -0.9M388.7 185.6L391.1 177.8M391.1 177.8l5.2 0.6M390.5 179.7l5.2 0.6"/><path fill="none" stroke="#0077fb" stroke-width="1" d="M481.5 192.6L485.7 199.7M485.7 199.7l-3.9 3.4"/><path fill="none" stroke="#f56c10" stroke-width="1" d="M366.5 185.6L370.1 178.3M370.1 178.3l5.0 1.4M369.2 180.1l5.0 1.4M368.3 181.8l2.9 0.8"/><path fill="none" stroke="#eb4f08" stroke-width="1" d="M377.5 185.6L378.9 177.6M378.9 177.6l5.2 0.0M378.6 179.5l5.2 0.0M378.2 181.5l3.0 0.0"/><path fill="none" stroke="#00c1ff" stroke-width="1" d="M521.7 185.6L522.4 177.4M522.2 179.4l3.0 -0.3"/><path fill="none" stroke="#00e8ff" stroke-width="1" d="M569.7 185.6L568.4 177.5M568.7 179.5l2.8 -1.0"/><path fill="none" stroke="#ec5109" stroke-width="1" d="M370.4 178.6L373.7 171.1M373.7 171.1l5.1 1.2M372.9 172.9l5.1 1.2M372.1 174.8l2.9 0.7"/><path fill="none" stroke="#fcbd15" stroke-width="1" d="M382.9 178.6L386.2 171.1M386.2 171.1l5.1 1.2M385.4 172.9l5.1 1.2M335.8 150.4L342.1 145.2M342.1 145.2l4.0 3.3M340.6 146.4l4.0 3.3"/><path fill="none" stroke="#fadf26" stroke-width="1" d="M394.6 178.6L396.6 170.7M396.6 170.7l5.2 0.4M396.1 172.6l5.2 0.4M358.7 93.7L366.5 91.3M366.5 91.3l2.3 4.6M364.6 91.9l2.3 4.6M364.3 43.5L371.2 39.1M371.2 39.1l3.5 3.8M369.5 40.1l3.5 3.8M425.6 43.5L433.7 41.9M433.7 41.9l1.9 4.8M431.7 42.3l1.9 4.8M372.4 36.3L380.5 35.0M380.5 35.0l1.7 4.9M378.6 35.4l1.7 4.9M414.3 29.1L421.9 26.2M421.9 26.2l2.6 4.5M420.1 26.9l2.6 4.5"/><path fill="none" stroke="#007300" stroke-width="1" d="M407.4 178.6L407.8 186.8M407.8 186.8l-5.1 1.2M407.7 184.8l-2.9 0.7M529.0 50.7L534.7 44.8M534.7 44.8l4.3 2.9M533.3 46.2l2.5 1.7"/><path fill="none" stroke="#0062f7" stroke-width="1" d="M479.3 178.6L485.8 183.7M485.8 183.7l-2.4 4.6M529.3 122.2L533.4 115.1M533.4 115.1l4.9 1.8"/><path fill="none" stroke="#00cfff" stroke-width="1" d="M527.0 178.6L528.3 170.5M528.0 172.5l3.0 -0.0"/><path fill="none" stroke="#f87413" stroke-width="1" d="M354.2 171.6L360.6 166.5M360.6 166.5l3.9 3.5M359.1 167.8l3.9 3.5M357.5 169.0l2.2 2.0"/><path fill="none" stroke="#ef5b0c" stroke-width="1" d="M365.9 171.6L372.3 166.5M372.3 166.5l3.9 3.4M370.7 167.7l3.9 3.4M369.2 169.0l2.2 2.0"/><path fill="none" stroke="#fb7b15" stroke-width="1" d="M376.1 171.6L382.0 165.9M382.0 165.9l4.2 3.0M380.5 167.3l4.2 3.0M379.1 168.7l2.4 1.8"/><path fill="none" stroke="#fbcc1c" stroke-width="1" d="M388.3 171.6L392.9 164.8M392.9 164.8l4.8 2.1M391.8 166.4l4.8 2.1"/><path fill="none" stroke="#006600" stroke-width="1" d="M402.5 171.6L407.7 177.9M407.7 177.9l-3.3 4.0M406.4 176.3l-1.9 2.3"/><path fill="none" stroke="#00cb00" stroke-width="1" d="M413.5 171.6L415.7 179.5M415.7 179.5l-4.7 2.2M415.2 177.5l-2.7 1.3M412.9 143.4L417.5 150.1M417.5 150.1l-3.7 3.6M416.4 148.5l-2.1 2.1M455.1 79.4L463.3 78.6M463.3 78.6l1.4 5.0M461.3 78.8l0.8 2.9M504.5 79.4L510.0 73.3M510.0 73.3l4.4 2.8M508.6 74.8l2.5 1.6M516.6 79.4L521.7 72.9M521.7 72.9l4.6 2.4M520.4 74.5l2.7 1.4"/><path fill="none" stroke="#fcc318" stroke-width="1" d="M336.8 164.5L342.0 158.2M342.0 158.2l4.5 2.6M340.8 159.8l4.5 2.6M359.8 136.3L365.3 130.3M365.3 130.3l4.4 2.8M364.0 131.7l4.4 2.8"/><path fill="none" stroke="#ea4c08" stroke-width="1" d="M347.2 164.5L352.6 158.4M352.6 158.4l4.4 2.7M351.2 159.9l4.4 2.7M349.9 161.4l2.6 1.6"/><path fill="none" stroke="#ec5309" stroke-width="1" d="M358.2 164.5L363.3 158.1M363.3 158.1l4.6 2.4M362.0 159.7l4.6 2.4M360.8 161.2l2.6 1.4"/><path fill="none" stroke="#fc7e15" stroke-width="1" d="M372.4 164.5L376.9 157.7M376.9 157.7l4.8 2.1M375.8 159.4l4.8 2.1M374.7 161.0l2.8 1.2"/><path fill="none" stroke="#007400" stroke-width="1" d="M407.0 164.5L410.3 172.0M410.3 172.0l-4.3 2.9M409.5 170.2l-2.5 1.7"/><path fill="none" stroke="#fd8317" stroke-width="1" d="M340.3 157.5L346.6 152.3M346.6 152.3l4.0 3.4M345.0 153.6l4.0 3.4M343.5 154.8l2.3 1.9"/><path fill="none" stroke="#f1610d" stroke-width="1" d="M354.0 157.5L361.3 153.7M361.3 153.7l3.2 4.1M359.5 154.6l3.2 4.1M357.7 155.6l1.8 2.4"/><path fill="none" stroke="#fa7b14" stroke-width="1" d="M365.5 157.5L370.8 151.3M370.8 151.3l4.5 2.6M369.5 152.8l4.5 2.6M368.2 154.3l2.6 1.5"/><path fill="none" stroke="#fcbf17" stroke-width="1" d="M376.6 157.5L381.9 151.2M381.9 151.2l4.5 2.6M380.6 152.7l4.5 2.6"/><path fill="none" stroke="#008200" stroke-width="1" d="M401.3 157.5L405.6 164.5M405.6 164.5l-3.9 3.5M404.5 162.8l-2.2 2.0"/><path fill="none" stroke="#00deff" stroke-width="1" d="M545.4 157.5L549.5 150.4M548.5 152.1l2.8 1.0"/><path fill="none" stroke="#fa7a14" stroke-width="1" d="M346.0 150.4L351.6 144.4M351.6 144.4l4.4 2.8M350.2 145.9l4.4 2.8M348.9 147.4l2.5 1.6"/><path fill="none" stroke="#fbc81a" stroke-width="1" d="M359.6 150.4L365.1 144.4M365.1 144.4l4.4 2.8M363.8 145.8l4.4 2.8"/><path fill="none" stroke="#fbcc1d" stroke-width="1" d="M383.6 150.4L389.4 144.6M389.4 144.6l4.3 3.0M388.0 146.0l4.3 3.0M342.7 115.1L350.2 111.6M350.2 111.6l3.0 4.3M348.3 112.4l3.0 4.3"/><path fill="none" stroke="#00e0ff" stroke-width="1" d="M564.1 150.4L563.5 142.3M563.6 144.3l2.9 -0.7"/><path fill="none" stroke="#fbd822" stroke-width="1" d="M328.0 143.4L333.3 137.1M333.3 137.1l4.5 2.6M332.0 138.6l4.5 2.6M354.8 143.4L361.3 138.5M361.3 138.5l3.8 3.6M359.7 139.7l3.8 3.6M370.1 136.3L375.4 130.1M375.4 130.1l4.5 2.6M374.1 131.6l4.5 2.6M324.1 79.4L331.0 75.0M331.0 75.0l3.5 3.8M329.3 76.1l3.5 3.8M325.2 50.7L333.1 48.6M333.1 48.6l2.2 4.7M331.2 49.1l2.2 4.7M432.6 50.7L440.5 48.5M440.5 48.5l2.2 4.7M438.6 49.1l2.2 4.7M462.7 43.5L470.1 39.9M470.1 39.9l3.1 4.2M468.3 40.8l3.1 4.2M455.0 36.3L462.8 33.6M462.8 33.6l2.5 4.5M460.9 34.3l2.5 4.5M304.5 29.1L312.2 26.5M312.2 26.5l2.5 4.6M310.3 27.1l2.5 4.6M352.8 29.1L359.7 24.7M359.7 24.7l3.5 3.8M358.0 25.8l3.5 3.8"/><path fill="none" stroke="#fada23" stroke-width="1" d="M367.1 143.4L372.3 137.0M372.3 137.0l4.5 2.5M371.0 138.6l4.5 2.5M365.5 129.2L372.5 125.0M372.5 125.0l3.4 3.9M370.8 126.0l3.4 3.9M394.6 107.9L401.9 104.3M401.9 104.3l3.1 4.2M400.1 105.2l3.1 4.2M316.6 57.9L324.5 55.6M324.5 55.6l2.3 4.6M322.6 56.1l2.3 4.6M389.5 29.1L397.2 26.3M397.2 26.3l2.6 4.5M395.3 27.0l2.6 4.5M461.0 29.1L468.2 25.3M468.2 25.3l3.2 4.1M466.5 26.2l3.2 4.1"/><path fill="none" stroke="#fbd521" stroke-width="1" d="M378.8 143.4L385.6 138.9M385.6 138.9l3.5 3.8M384.0 140.0l3.5 3.8M347.9 107.9L354.2 102.7M354.2 102.7l4.0 3.3M352.7 104.0l4.0 3.3M328.7 100.8L335.8 96.7M335.8 96.7l3.3 4.0M334.1 97.7l3.3 4.0M373.3 50.7L380.1 46.3M380.1 46.3l3.5 3.8M378.5 47.4l3.5 3.8M472.7 43.5L480.5 41.0M480.5 41.0l2.4 4.6M478.6 41.6l2.4 4.6"/><path fill="none" stroke="#fbd420" stroke-width="1" d="M334.7 136.3L341.3 131.5M341.3 131.5l3.7 3.6M339.7 132.7l3.7 3.6M370.7 79.4L378.5 76.8M378.5 76.8l2.5 4.6M376.6 77.5l2.5 4.6M400.3 43.5L408.4 42.4M408.4 42.4l1.6 5.0M406.5 42.7l1.6 5.0M329.7 29.1L337.0 25.3M337.0 25.3l3.2 4.1M335.2 26.2l3.2 4.1"/><path fill="none" stroke="#fbd722" stroke-width="1" d="M382.5 136.3L387.0 129.5M387.0 129.5l4.8 2.1M385.9 131.2l4.8 2.1M337.4 93.7L345.2 91.1M345.2 91.1l2.5 4.6M343.3 91.7l2.5 4.6M341.0 86.6L348.9 84.1M348.9 84.1l2.4 4.6M347.0 84.7l2.4 4.6M358.1 50.7L365.9 48.1M365.9 48.1l2.5 4.6M364.0 48.8l2.5 4.6"/><path fill="none" stroke="#fbd923" stroke-width="1" d="M354.1 129.2L360.6 124.2M360.6 124.2l3.8 3.5M359.1 125.5l3.8 3.5M354.4 100.8L360.5 95.3M360.5 95.3l4.1 3.2M359.0 96.7l4.1 3.2M352.1 86.6L358.5 81.4M358.5 81.4l4.0 3.4M356.9 82.6l4.0 3.4M334.1 65.1L341.3 61.2M341.3 61.2l3.3 4.1M339.5 62.1l3.3 4.1M358.4 65.1L366.4 63.2M366.4 63.2l2.1 4.8M364.5 63.7l2.1 4.8M377.2 57.9L385.1 55.9M385.1 55.9l2.2 4.7M383.2 56.4l2.2 4.7M389.8 57.9L397.2 54.4M397.2 54.4l3.0 4.3M395.4 55.3l3.0 4.3M437.6 29.1L445.6 27.2M445.6 27.2l2.1 4.8M443.7 27.6l2.1 4.8"/><path fill="none" stroke="#fadd25" stroke-width="1" d="M378.6 129.2L383.8 122.8M383.8 122.8l4.6 2.5M382.5 124.4l4.6 2.5M373.2 65.1L379.9 60.4M379.9 60.4l3.7 3.7M378.3 61.5l3.7 3.7M492.1 65.1L500.0 62.8M500.0 62.8l2.3 4.7M498.1 63.3l2.3 4.7M323.4 36.3L330.9 33.0M330.9 33.0l2.9 4.3M329.0 33.8l2.9 4.3M383.1 36.3L390.7 33.1M390.7 33.1l2.8 4.4M388.8 33.9l2.8 4.4"/><path fill="none" stroke="#00b7ff" stroke-width="1" d="M533.4 129.2L535.6 121.3M535.1 123.3l3.0 0.3"/><path fill="none" stroke="#fadb24" stroke-width="1" d="M334.4 122.2L341.0 117.2M341.0 117.2l3.8 3.6M339.4 118.4l3.8 3.6M366.5 115.1L372.6 109.6M372.6 109.6l4.1 3.2M371.1 110.9l4.1 3.2M360.1 107.9L367.7 104.8M367.7 104.8l2.8 4.4M365.9 105.6l2.8 4.4M487.8 72.3L494.8 68.1M494.8 68.1l3.4 3.9M493.1 69.1l3.4 3.9M329.1 57.9L336.6 54.6M336.6 54.6l2.9 4.3M334.8 55.4l2.9 4.3M385.2 50.7L393.3 49.8M393.3 49.8l1.5 5.0M391.3 50.0l1.5 5.0M318.2 43.5L325.7 40.1M325.7 40.1l3.0 4.3M323.9 40.9l3.0 4.3M419.8 36.3L427.9 35.0M427.9 35.0l1.7 4.9M426.0 35.3l1.7 4.9"/><path fill="none" stroke="#fbd21f" stroke-width="1" d="M383.0 122.2L388.6 116.2M388.6 116.2l4.3 2.9M387.3 117.7l4.3 2.9M373.4 107.9L380.6 103.9M380.6 103.9l3.3 4.0M378.9 104.9l3.3 4.0M485.8 57.9L493.7 55.6M493.7 55.6l2.3 4.7M491.7 56.2l2.3 4.7"/><path fill="none" stroke="#007700" stroke-width="1" d="M396.5 122.2L404.6 122.4M404.6 122.4l0.8 5.1M402.6 122.3l0.4 3.0M505.0 36.3L512.0 32.1M512.0 32.1l3.4 3.9M510.3 33.1l2.0 2.3M523.6 29.1L529.7 23.6M529.7 23.6l4.1 3.2M528.2 24.9l2.4 1.8"/><path fill="none" stroke="#fadc24" stroke-width="1" d="M353.1 115.1L360.3 111.2M360.3 111.2l3.2 4.1M358.5 112.1l3.2 4.1M391.0 115.1L396.8 109.3M396.8 109.3l4.2 3.0M395.4 110.7l4.2 3.0M367.6 86.6L375.1 83.2M375.1 83.2l2.9 4.3M373.2 84.0l2.9 4.3M316.1 72.3L322.5 67.1M322.5 67.1l3.9 3.4M321.0 68.3l3.9 3.4M328.4 72.3L335.4 67.9M335.4 67.9l3.5 3.9M333.7 69.0l3.5 3.9M383.7 65.1L391.7 63.3M391.7 63.3l2.0 4.8M389.7 63.7l2.0 4.8M354.0 57.9L361.4 54.3M361.4 54.3l3.0 4.2M359.6 55.2l3.0 4.2M474.0 57.9L481.5 54.6M481.5 54.6l2.9 4.3M479.7 55.4l2.9 4.3M376.4 29.1L384.6 28.1M384.6 28.1l1.5 5.0M382.6 28.4l1.5 5.0"/><path fill="none" stroke="#007200" stroke-width="1" d="M402.0 115.1L410.1 116.0M410.1 116.0l0.3 5.2M408.1 115.8l0.2 3.0"/><path fill="none" stroke="#fadf25" stroke-width="1" d="M316.7 100.8L323.7 96.6M323.7 96.6l3.4 3.9M322.0 97.7l3.4 3.9M552.2 79.4L558.5 74.3M558.5 74.3l3.9 3.4M557.0 75.5l3.9 3.4"/><path fill="none" stroke="#fbd11f" stroke-width="1" d="M364.3 100.8L371.9 98.0M371.9 98.0l2.6 4.5M370.1 98.7l2.6 4.5M318.6 86.6L326.4 84.0M326.4 84.0l2.4 4.6M324.5 84.7l2.4 4.6M325.2 65.1L333.1 62.9M333.1 62.9l2.2 4.7M331.2 63.5l2.2 4.7M406.8 50.7L414.7 48.8M414.7 48.8l2.1 4.8M412.8 49.2l2.1 4.8M424.9 29.1L433.0 28.2M433.0 28.2l1.4 5.0M431.1 28.4l1.4 5.0M486.7 29.1L494.6 27.0M494.6 27.0l2.2 4.7M492.7 27.5l2.2 4.7"/><path fill="none" stroke="#fbd01e" stroke-width="1" d="M347.5 93.7L355.1 90.8M355.1 90.8l2.6 4.5M353.3 91.5l2.6 4.5"/><path fill="none" stroke="#007900" stroke-width="1" d="M370.2 93.7L378.2 91.6M378.2 91.6l2.2 4.7M376.2 92.1l1.3 2.7M400.9 72.3L408.8 70.4M408.8 70.4l2.1 4.8M406.9 70.8l1.2 2.8"/><path fill="none" stroke="#006900" stroke-width="1" d="M384.7 93.7L392.9 93.8M392.9 93.8l0.9 5.1M390.9 93.8l0.5 3.0"/><path fill="none" stroke="#fbd421" stroke-width="1" d="M328.1 86.6L334.7 81.6M334.7 81.6l3.8 3.5M333.1 82.8l3.8 3.5"/><path fill="none" stroke="#006800" stroke-width="1" d="M389.6 86.6L397.7 85.9M397.7 85.9l1.3 5.0M395.7 86.1l0.8 2.9M385.0 79.4L393.2 78.8M393.2 78.8l1.3 5.0M391.2 78.9l0.8 2.9"/><path fill="none" stroke="#008600" stroke-width="1" d="M395.0 79.4L403.2 79.2M403.2 79.2l1.0 5.1M401.2 79.3l0.6 2.9"/><path fill="none" stroke="#007600" stroke-width="1" d="M490.8 79.4L498.6 76.7M498.6 76.7l2.5 4.5M496.7 77.4l1.5 2.6M426.3 72.3L434.5 72.4M434.5 72.4l0.8 5.1M432.5 72.4l0.5 3.0"/><path fill="none" stroke="#fae126" stroke-width="1" d="M352.4 72.3L359.7 68.6M359.7 68.6l3.1 4.2M358.0 69.5l3.1 4.2M328.8 43.5L336.5 40.8M336.5 40.8l2.5 4.5M334.6 41.5l2.5 4.5M355.4 43.5L363.0 40.5M363.0 40.5l2.7 4.4M361.2 41.2l2.7 4.4"/><path fill="none" stroke="#fbd621" stroke-width="1" d="M377.2 72.3L384.7 68.9M384.7 68.9l2.9 4.3M382.8 69.7l2.9 4.3M334.2 50.7L341.1 46.2M341.1 46.2l3.6 3.8M339.4 47.3l3.6 3.8M359.2 36.3L366.2 32.0M366.2 32.0l3.5 3.9M364.5 33.0l3.5 3.9"/><path fill="none" stroke="#f05d0c" stroke-width="1" d="M473.8 72.3L481.7 70.1M481.7 70.1l2.2 4.7M479.7 70.6l2.2 4.7M477.8 71.1l1.3 2.7"/><path fill="none" stroke="#008400" stroke-width="1" d="M499.7 72.3L506.0 66.9M506.0 66.9l4.0 3.3M504.4 68.2l2.3 1.9"/><path fill="none" stroke="#006500" stroke-width="1" d="M521.4 72.3L526.6 65.9M526.6 65.9l4.5 2.5M525.3 67.5l2.6 1.5"/><path fill="none" stroke="#fbcd1d" stroke-width="1" d="M346.8 65.1L354.6 62.6M354.6 62.6l2.4 4.6M352.7 63.2l2.4 4.6M341.1 43.5L349.0 41.5M349.0 41.5l2.1 4.7M347.1 42.0l2.1 4.7M486.2 43.5L493.4 39.7M493.4 39.7l3.2 4.1M491.7 40.6l3.2 4.1"/><path fill="none" stroke="#006e00" stroke-width="1" d="M406.2 65.1L414.0 62.5M414.0 62.5l2.5 4.6M412.1 63.2l1.4 2.6"/><path fill="none" stroke="#008800" stroke-width="1" d="M420.9 65.1L429.1 65.9M429.1 65.9l0.4 5.2M427.1 65.7l0.2 3.0"/><path fill="none" stroke="#fb7d15" stroke-width="1" d="M469.0 65.1L477.1 63.7M477.1 63.7l1.7 4.9M475.1 64.1l1.7 4.9M473.1 64.4l1.0 2.8"/><path fill="none" stroke="#007800" stroke-width="1" d="M425.5 57.9L433.7 57.8M433.7 57.8l1.0 5.1M431.7 57.8l0.6 2.9M536.0 57.9L542.5 52.9M542.5 52.9l3.8 3.5M540.9 54.1l2.2 2.0M545.7 57.9L553.1 54.2M553.1 54.2l3.1 4.2M551.3 55.1l1.8 2.4M517.0 36.3L522.7 30.5M522.7 30.5l4.3 3.0M521.3 31.9l2.5 1.7"/><path fill="none" stroke="#007c00" stroke-width="1" d="M498.6 57.9L505.2 53.0M505.2 53.0l3.8 3.6M503.6 54.2l2.2 2.1"/><path fill="none" stroke="#009a00" stroke-width="1" d="M509.5 57.9L516.5 53.6M516.5 53.6l3.4 3.9M514.8 54.7l2.0 2.2"/><path fill="none" stroke="#fadd24" stroke-width="1" d="M421.4 50.7L429.2 48.0M429.2 48.0l2.5 4.5M427.3 48.7l2.5 4.5"/><path fill="none" stroke="#006b00" stroke-width="1" d="M517.1 50.7L523.8 45.9M523.8 45.9l3.7 3.6M522.2 47.1l2.2 2.1"/><path fill="none" stroke="#006400" stroke-width="1" d="M536.1 43.5L542.7 38.7M542.7 38.7l3.8 3.6M541.1 39.9l2.2 2.1"/><path fill="none" stroke="#fbd622" stroke-width="1" d="M407.6 36.3L415.3 33.4M415.3 33.4l2.6 4.5M413.4 34.1l2.6 4.5M364.3 29.1L372.0 26.3M372.0 26.3l2.6 4.5M370.1 27.0l2.6 4.5"/><path fill="none" stroke="#008e00" stroke-width="1" d="M479.1 36.3L487.3 35.5M487.3 35.5l1.4 5.0M485.3 35.7l0.8 2.9"/></g></svg></body></html>
